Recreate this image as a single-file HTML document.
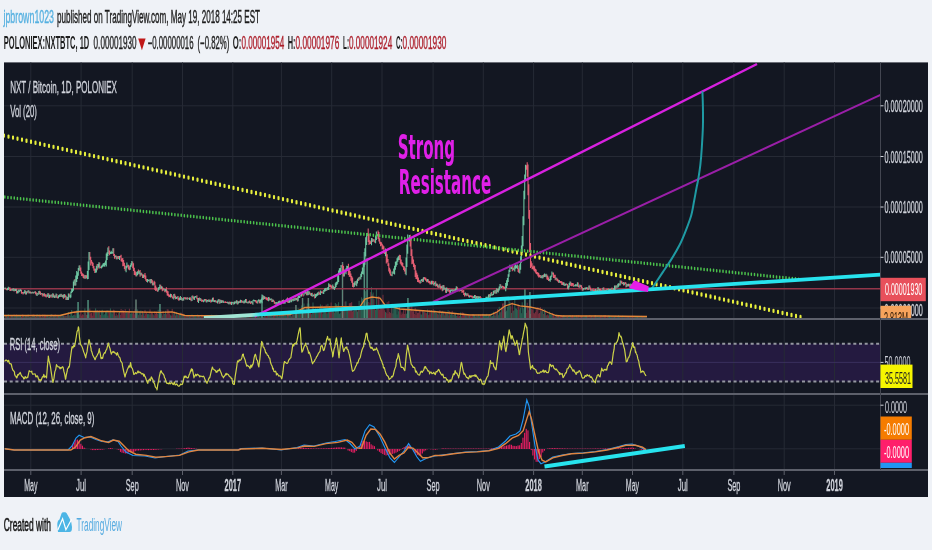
<!DOCTYPE html><html><head><meta charset="utf-8"><title>NXTBTC chart</title><style>html,body{margin:0;padding:0;background:#eff2f7;}body{width:932px;height:550px;overflow:hidden}</style></head><body><svg width="932" height="550" viewBox="0 0 932 550" style="display:block;filter:blur(0.4px)">
<rect width="932" height="550" fill="#eff2f7"/>
<g style="font-family:'Liberation Sans',Arial,sans-serif">
<text x="3.5" y="22.8" font-size="19" fill="#55b0e0" font-weight="normal" text-anchor="start" textLength="50.5" lengthAdjust="spacingAndGlyphs" stroke="#55b0e0" stroke-width="0.4">jpbrown1023</text>
<text x="57" y="22.8" font-size="19" fill="#1c1c1c" font-weight="normal" text-anchor="start" textLength="203" lengthAdjust="spacingAndGlyphs" stroke="#1c1c1c" stroke-width="0.45">published on TradingView.com, May 19, 2018 14:25 EST</text>
<text x="3.8" y="49" font-size="17.5" fill="#1e1e1e" font-weight="bold" text-anchor="start" textLength="85.5" lengthAdjust="spacingAndGlyphs" >POLONIEX:NXTBTC, 1D</text>
<text x="93.6" y="49" font-size="17.5" fill="#1f1f1f" font-weight="normal" text-anchor="start" textLength="43" lengthAdjust="spacingAndGlyphs" stroke="#1f1f1f" stroke-width="0.4">0.00001930</text>
<path d="M138.2,38.5 L145.6,38.5 L141.9,50.3 Z" fill="#c01818"/>
<text x="147.7" y="49" font-size="17.5" fill="#1f1f1f" font-weight="normal" text-anchor="start" textLength="45.8" lengthAdjust="spacingAndGlyphs" stroke="#1f1f1f" stroke-width="0.4">−0.00000016</text>
<text x="197.5" y="49" font-size="17.5" fill="#1f1f1f" font-weight="normal" text-anchor="start" textLength="31.8" lengthAdjust="spacingAndGlyphs" stroke="#1f1f1f" stroke-width="0.4">(−0.82%)</text>
<text x="232.7" y="49" font-size="17.5" fill="#1e1e1e" font-weight="bold" text-anchor="start" textLength="8.6" lengthAdjust="spacingAndGlyphs" >O:</text>
<text x="241.5" y="49" font-size="17.5" fill="#ad1f2b" font-weight="normal" text-anchor="start" textLength="42.7" lengthAdjust="spacingAndGlyphs" stroke="#ad1f2b" stroke-width="0.4">0.00001954</text>
<text x="287.7" y="49" font-size="17.5" fill="#1e1e1e" font-weight="bold" text-anchor="start" textLength="7.8" lengthAdjust="spacingAndGlyphs" >H:</text>
<text x="295.5" y="49" font-size="17.5" fill="#ad1f2b" font-weight="normal" text-anchor="start" textLength="43.8" lengthAdjust="spacingAndGlyphs" stroke="#ad1f2b" stroke-width="0.4">0.00001976</text>
<text x="343" y="49" font-size="17.5" fill="#1e1e1e" font-weight="bold" text-anchor="start" textLength="6" lengthAdjust="spacingAndGlyphs" >L:</text>
<text x="349" y="49" font-size="17.5" fill="#ad1f2b" font-weight="normal" text-anchor="start" textLength="43.2" lengthAdjust="spacingAndGlyphs" stroke="#ad1f2b" stroke-width="0.4">0.00001924</text>
<text x="395.9" y="49" font-size="17.5" fill="#1e1e1e" font-weight="bold" text-anchor="start" textLength="6.7" lengthAdjust="spacingAndGlyphs" >C:</text>
<text x="402.6" y="49" font-size="17.5" fill="#ad1f2b" font-weight="normal" text-anchor="start" textLength="43.8" lengthAdjust="spacingAndGlyphs" stroke="#ad1f2b" stroke-width="0.4">0.00001930</text>
</g>
<rect x="4" y="62.4" width="924" height="434.6" fill="#131722"/>
<defs><clipPath id="cm"><rect x="4" y="62.4" width="876.5" height="255.6"/></clipPath><clipPath id="cr"><rect x="4" y="320" width="876.5" height="73"/></clipPath><clipPath id="cd"><rect x="4" y="395" width="876.5" height="74"/></clipPath></defs>
<rect x="4" y="343.7" width="876.5" height="37.8" fill="#241a40"/>
<path d="M30.8,62.4V470 M81.1,62.4V470 M132.2,62.4V470 M182.5,62.4V470 M232.8,62.4V470 M281.4,62.4V470 M331.7,62.4V470 M382.0,62.4V470 M433.1,62.4V470 M483.3,62.4V470 M533.6,62.4V470 M582.3,62.4V470 M632.5,62.4V470 M682.8,62.4V470 M733.9,62.4V470 M784.2,62.4V470 M834.5,62.4V470 M4,105.8H880.5 M4,156.5H880.5 M4,207H880.5 M4,257.3H880.5 M4,308H880.5 M4,405.2H880.5 M4,448.8H880.5" stroke="#262a35" stroke-width="1" fill="none"/>
<path d="M4,362.4H880.5" stroke="#3a2f5c" stroke-width="1"/>
<path d="M4,343.7H880.5M4,381.5H880.5" stroke="#9598a1" stroke-width="2" stroke-dasharray="3 2.7"/>
<g clip-path="url(#cm)" fill="none" stroke-width="0.8">
<path d="M5.8,318V315.7M6.6,318V315.9M9.1,318V316.3M9.9,318V316.6M10.8,318V316.1M12.4,318V315.4M14.1,318V314.6M16.5,318V314.6M19.0,318V315.1M21.5,318V316.8M22.3,318V314.6M23.1,318V314.8M25.6,318V315.7M27.2,318V315.1M28.9,318V314.8M30.5,318V316.7M32.2,318V314.6M33.8,318V314.3M35.5,318V316.7M36.3,318V315.6M37.9,318V316.6M39.6,318V314.7M40.4,318V315.0M42.1,318V315.1M42.9,318V314.4M44.5,318V314.7M45.4,318V314.8M46.2,318V315.0M48.7,318V316.6M50.3,318V315.2M51.9,318V314.4M53.6,318V315.4M55.2,318V314.5M56.9,318V316.6M57.7,318V315.0M60.2,318V315.6M61.8,318V314.6M63.5,318V315.8M65.1,318V315.6M65.9,318V315.9M67.6,318V314.4M69.2,318V315.2M75.0,318V311.2M79.9,318V314.2M80.8,318V312.0M81.6,318V315.6M82.4,318V314.3M83.2,318V314.9M84.1,318V312.8M85.7,318V312.7M86.5,318V314.8M89.8,318V308.5M90.7,318V313.4M91.5,318V312.9M92.3,318V315.7M93.1,318V312.7M93.9,318V311.3M94.8,318V310.8M97.2,318V310.2M99.7,318V310.5M100.5,318V314.9M108.8,318V310.7M109.6,318V312.3M113.7,318V309.7M114.5,318V310.6M116.2,318V313.5M117.8,318V314.9M118.7,318V313.1M120.3,318V315.0M121.1,318V309.0M122.0,318V313.1M122.8,318V309.9M123.6,318V310.6M124.4,318V312.6M125.2,318V309.1M127.7,318V313.0M128.5,318V312.3M129.4,318V308.7M132.7,318V313.5M133.5,318V312.3M134.3,318V314.3M135.1,318V309.2M136.0,318V299.6M138.4,318V315.1M140.1,318V312.7M141.7,318V315.0M142.5,318V311.1M144.2,318V315.8M145.0,318V309.9M145.8,318V314.2M146.7,318V312.5M150.0,318V309.4M151.6,318V312.6M152.4,318V313.2M154.1,318V315.6M154.9,318V311.1M155.7,318V313.8M156.5,318V311.6M157.4,318V313.8M160.7,318V309.9M162.3,318V315.7M163.1,318V310.9M164.8,318V313.8M166.4,318V314.3M167.2,318V309.3M168.1,318V309.4M168.9,318V310.7M169.7,318V313.6M171.4,318V315.6M172.2,318V308.9M173.0,318V315.3M174.7,318V311.4M175.5,318V315.5M178.0,318V314.4M178.8,318V315.4M181.3,318V312.8M182.9,318V313.5M184.5,318V316.3M185.4,318V316.5M186.2,318V316.2M187.8,318V315.3M188.7,318V315.2M190.3,318V316.0M191.1,318V315.1M192.8,318V315.9M193.6,318V315.6M196.9,318V316.8M197.7,318V314.6M199.4,318V316.1M201.0,318V316.8M201.8,318V314.8M202.7,318V314.9M205.1,318V316.0M206.0,318V315.2M208.4,318V317.1M210.1,318V316.2M210.9,318V315.3M213.4,318V316.3M215.8,318V317.1M216.7,318V314.8M219.1,318V317.0M220.8,318V316.3M222.4,318V315.7M224.1,318V315.7M224.9,318V315.1M225.7,318V317.2M226.5,318V316.4M228.2,318V315.0M229.8,318V316.6M230.7,318V315.7M233.1,318V315.4M235.6,318V317.2M237.3,318V315.6M239.7,318V316.7M241.4,318V316.8M242.2,318V315.5M243.8,318V315.7M246.3,318V316.5M248.0,318V314.8M249.6,318V315.3M250.4,318V315.0M252.1,318V316.9M255.4,318V316.3M256.2,318V316.2M257.0,318V317.0M259.5,318V316.6M263.6,318V316.8M265.3,318V314.2M266.1,318V316.9M266.9,318V315.8M267.7,318V315.5M269.4,318V314.2M271.8,318V314.6M273.5,318V315.8M274.3,318V314.4M275.1,318V313.5M277.6,318V314.1M280.1,318V315.3M281.7,318V314.5M283.4,318V314.5M287.5,318V314.8M288.3,318V314.8M290.8,318V312.3M292.4,318V312.7M294.1,318V311.1M295.7,318V305.0M297.4,318V313.2M300.7,318V310.4M302.3,318V298.0M303.1,318V307.6M304.8,318V311.6M306.4,318V306.9M308.1,318V298.0M309.7,318V308.3M310.6,318V312.5M312.2,318V307.4M314.7,318V310.2M318.8,318V310.6M319.6,318V307.9M321.3,318V306.3M322.1,318V305.2M326.2,318V304.6M329.5,318V306.0M330.3,318V307.0M331.1,318V302.5M332.0,318V309.2M333.6,318V311.4M341.9,318V306.7M342.7,318V262.0M343.5,318V308.7M345.1,318V301.5M348.4,318V310.4M349.3,318V303.4M350.1,318V303.2M350.9,318V302.9M351.7,318V302.1M352.6,318V311.4M353.4,318V310.9M355.9,318V306.4M358.3,318V306.5M360.0,318V305.6M368.2,318V302.0M369.0,318V305.8M369.9,318V302.6M370.7,318V292.1M372.3,318V294.3M374.0,318V299.2M374.8,318V307.4M378.1,318V296.3M378.9,318V296.4M379.7,318V309.7M380.6,318V305.4M381.4,318V306.0M382.2,318V305.9M383.0,318V294.8M383.9,318V304.9M384.7,318V310.2M386.3,318V312.7M387.2,318V302.1M388.0,318V313.7M388.8,318V301.2M389.6,318V312.0M390.4,318V312.9M391.3,318V307.6M392.9,318V313.4M399.5,318V306.9M400.3,318V309.6M401.2,318V314.7M402.0,318V312.4M402.8,318V313.9M403.6,318V309.2M404.4,318V313.9M405.3,318V310.1M408.6,318V307.0M410.2,318V311.0M411.0,318V306.6M411.9,318V306.2M412.7,318V311.3M413.5,318V311.2M414.3,318V314.0M415.2,318V307.9M416.0,318V315.0M416.8,318V310.5M417.6,318V313.1M418.4,318V312.7M419.3,318V310.2M420.1,318V310.8M422.6,318V310.3M424.2,318V311.6M425.0,318V312.4M425.9,318V312.7M426.7,318V313.3M428.3,318V315.1M429.2,318V309.9M430.0,318V314.5M430.8,318V310.5M432.4,318V312.2M433.3,318V309.3M435.7,318V313.1M437.4,318V313.6M438.2,318V314.6M439.9,318V310.2M440.7,318V314.6M442.3,318V310.9M444.0,318V312.2M445.6,318V312.6M447.3,318V314.1M448.9,318V315.6M449.7,318V311.1M452.2,318V310.9M454.7,318V313.8M457.2,318V316.0M458.0,318V313.6M458.8,318V316.5M459.6,318V315.8M461.3,318V316.4M462.1,318V312.5M462.9,318V312.7M463.7,318V313.0M464.6,318V314.7M466.2,318V314.9M467.9,318V314.8M468.7,318V315.5M470.3,318V316.0M471.2,318V316.4M472.0,318V316.0M472.8,318V314.2M475.3,318V316.5M477.7,318V316.0M480.2,318V314.7M481.0,318V315.9M481.9,318V316.2M482.7,318V313.8M489.3,318V314.1M491.7,318V316.5M494.2,318V312.2M495.9,318V311.4M497.5,318V309.0M500.8,318V311.7M502.5,318V303.6M503.3,318V303.4M504.1,318V306.9M504.9,318V300.0M510.7,318V306.2M512.3,318V302.4M514.0,318V310.2M518.1,318V304.4M518.9,318V306.5M526.3,318V312.9M527.2,318V302.7M528.0,318V306.1M528.8,318V310.3M529.6,318V292.0M530.5,318V313.8M531.3,318V308.7M532.1,318V309.2M532.9,318V309.6M533.8,318V313.1M534.6,318V313.4M535.4,318V311.9M536.2,318V308.8M537.0,318V309.8M537.9,318V307.0M538.7,318V313.7M539.5,318V313.0M540.3,318V307.0M542.0,318V308.5M543.6,318V314.0M545.3,318V310.0M546.9,318V315.1M547.8,318V314.4M548.6,318V315.5M552.7,318V312.9M553.5,318V314.1M554.3,318V316.3M555.2,318V316.8M556.8,318V315.8M557.6,318V316.2M558.5,318V316.0M560.1,318V316.6M560.9,318V315.0M561.8,318V315.3M562.6,318V315.8M564.2,318V315.5M566.7,318V316.7M567.5,318V317.0M570.8,318V316.0M571.6,318V316.5M572.5,318V315.3M573.3,318V316.7M576.6,318V315.4M578.2,318V315.2M579.0,318V315.6M580.7,318V315.9M581.5,318V316.2M582.3,318V316.0M584.8,318V316.1M587.3,318V316.6M588.1,318V316.1M589.8,318V315.0M590.6,318V317.1M591.4,318V316.0M593.1,318V316.9M593.9,318V316.7M594.7,318V315.5M596.3,318V316.4M598.8,318V316.3M600.5,318V316.0M601.3,318V315.6M602.1,318V316.6M603.8,318V315.3M604.6,318V315.4M605.4,318V315.1M607.1,318V315.7M607.9,318V316.6M612.0,318V316.3M612.8,318V317.0M615.3,318V315.8M616.9,318V316.2M619.4,318V316.5M621.1,318V316.1M621.9,318V316.1M623.5,318V317.3M625.2,318V315.9M626.0,318V316.9M627.6,318V316.1M629.3,318V316.5M630.1,318V316.5M631.8,318V317.0M632.6,318V315.8M633.4,318V317.3M635.1,318V316.8M638.3,318V317.0M640.0,318V317.1M642.5,318V316.8M643.3,318V316.8M645.8,318V316.8" stroke="#8a3344"/>
<path d="M5.0,318V315.6M7.5,318V316.5M8.3,318V314.3M11.6,318V315.2M13.2,318V316.4M14.9,318V315.9M15.7,318V315.7M17.4,318V315.4M18.2,318V315.8M19.8,318V316.0M20.6,318V315.8M23.9,318V315.9M24.8,318V316.6M26.4,318V316.1M28.1,318V314.5M29.7,318V316.9M31.4,318V316.8M33.0,318V316.1M34.6,318V316.1M37.1,318V314.3M38.8,318V314.9M41.2,318V317.0M43.7,318V316.5M47.0,318V314.9M47.8,318V316.0M49.5,318V316.7M51.1,318V314.3M52.8,318V316.4M54.4,318V316.1M56.1,318V315.6M58.5,318V315.6M59.4,318V316.4M61.0,318V315.1M62.7,318V314.3M64.3,318V316.2M66.8,318V315.8M68.4,318V312.0M70.1,318V316.1M70.9,318V312.4M71.7,318V310.0M72.5,318V315.8M73.4,318V315.2M74.2,318V315.0M75.8,318V315.4M76.7,318V310.3M77.5,318V312.6M78.3,318V302.0M79.1,318V315.0M84.9,318V308.4M87.4,318V315.1M88.2,318V300.0M89.0,318V314.5M95.6,318V308.4M96.4,318V310.9M98.1,318V311.8M98.9,318V311.4M101.4,318V311.0M102.2,318V309.8M103.0,318V311.7M103.8,318V315.2M104.7,318V314.2M105.5,318V312.1M106.3,318V311.1M107.1,318V310.2M107.9,318V315.6M110.4,318V308.4M111.2,318V312.3M112.1,318V314.2M112.9,318V311.4M115.4,318V315.7M117.0,318V315.8M119.5,318V311.5M126.1,318V313.3M126.9,318V311.1M130.2,318V313.4M131.0,318V314.0M131.8,318V312.9M136.8,318V311.8M137.6,318V309.4M139.2,318V311.2M140.9,318V310.5M143.4,318V313.2M147.5,318V314.2M148.3,318V313.7M149.1,318V314.6M150.8,318V314.4M153.2,318V314.5M158.2,318V309.7M159.0,318V314.6M159.8,318V304.0M161.5,318V313.3M164.0,318V314.1M165.6,318V310.8M170.5,318V315.3M173.8,318V313.1M176.3,318V312.0M177.1,318V315.0M179.6,318V314.4M180.4,318V312.7M182.1,318V315.4M183.7,318V315.0M187.0,318V315.6M189.5,318V316.3M192.0,318V314.6M194.4,318V316.1M195.3,318V316.4M196.1,318V314.9M198.5,318V315.5M200.2,318V316.7M203.5,318V315.7M204.3,318V316.0M206.8,318V316.7M207.6,318V317.0M209.3,318V315.9M211.7,318V314.7M212.5,318V315.2M214.2,318V315.1M215.0,318V314.9M217.5,318V316.9M218.3,318V316.3M220.0,318V316.2M221.6,318V316.8M223.3,318V315.6M227.4,318V315.7M229.0,318V315.2M231.5,318V315.5M232.3,318V316.3M234.0,318V316.8M234.8,318V315.8M236.4,318V315.6M238.1,318V317.0M238.9,318V315.7M240.5,318V316.7M243.0,318V316.5M244.7,318V314.8M245.5,318V316.2M247.1,318V316.9M248.8,318V315.4M251.3,318V314.8M252.9,318V314.9M253.7,318V316.9M254.6,318V316.6M257.8,318V314.9M258.7,318V314.6M260.3,318V317.1M261.1,318V314.7M262.0,318V294.5M262.8,318V316.4M264.4,318V314.6M268.6,318V315.9M270.2,318V314.4M271.0,318V315.4M272.7,318V316.4M276.0,318V315.4M276.8,318V315.5M278.4,318V316.4M279.3,318V314.2M280.9,318V313.6M282.6,318V314.5M284.2,318V315.1M285.0,318V316.1M285.8,318V315.3M286.7,318V316.2M289.1,318V314.7M290.0,318V315.2M291.6,318V316.4M293.3,318V310.8M294.9,318V310.6M296.6,318V309.5M298.2,318V308.3M299.0,318V313.1M299.8,318V312.5M301.5,318V305.4M304.0,318V303.5M305.6,318V312.5M307.3,318V303.5M308.9,318V303.6M311.4,318V314.2M313.0,318V302.5M313.8,318V306.5M315.5,318V308.3M316.3,318V310.1M317.1,318V308.4M318.0,318V309.0M320.4,318V304.4M322.9,318V314.1M323.7,318V306.6M324.6,318V306.5M325.4,318V306.7M327.0,318V313.7M327.9,318V303.8M328.7,318V310.9M332.8,318V308.9M334.4,318V312.6M335.3,318V303.0M336.1,318V304.7M336.9,318V304.2M337.7,318V306.1M338.6,318V302.2M339.4,318V313.9M340.2,318V313.1M341.0,318V307.8M344.3,318V306.7M346.0,318V301.4M346.8,318V310.0M347.6,318V306.2M354.2,318V310.7M355.0,318V308.0M356.7,318V307.1M357.5,318V311.6M359.1,318V300.8M360.8,318V306.0M361.6,318V297.3M362.4,318V299.1M363.3,318V297.8M364.1,318V252.0M364.9,318V310.3M365.7,318V291.2M366.6,318V302.3M367.4,318V258.0M371.5,318V287.1M373.1,318V292.5M375.6,318V310.0M376.4,318V288.9M377.3,318V308.6M385.5,318V312.1M392.1,318V303.7M393.7,318V304.3M394.6,318V304.0M395.4,318V304.2M396.2,318V304.9M397.0,318V314.5M397.9,318V309.0M398.7,318V311.3M406.1,318V313.8M406.9,318V313.6M407.7,318V298.0M409.4,318V306.1M420.9,318V314.3M421.7,318V314.7M423.4,318V311.6M427.5,318V309.5M431.6,318V310.1M434.1,318V311.5M434.9,318V310.1M436.6,318V313.1M439.0,318V312.0M441.5,318V312.2M443.2,318V311.6M444.8,318V315.4M446.4,318V313.4M448.1,318V310.3M450.6,318V314.6M451.4,318V312.8M453.0,318V314.7M453.9,318V314.8M455.5,318V313.1M456.3,318V315.9M460.5,318V312.5M465.4,318V315.2M467.0,318V316.2M469.5,318V315.7M473.6,318V314.5M474.5,318V315.2M476.1,318V315.7M476.9,318V316.2M478.6,318V314.7M479.4,318V316.3M483.5,318V314.0M484.3,318V314.7M485.2,318V314.7M486.0,318V314.8M486.8,318V313.8M487.6,318V316.4M488.5,318V315.6M490.1,318V316.0M490.9,318V313.6M492.6,318V316.0M493.4,318V311.8M495.0,318V315.7M496.7,318V312.9M498.3,318V315.2M499.2,318V306.8M500.0,318V312.8M501.6,318V307.4M505.7,318V312.1M506.6,318V310.6M507.4,318V306.9M508.2,318V306.4M509.0,318V298.1M509.9,318V302.0M511.5,318V312.9M513.2,318V310.9M514.8,318V298.8M515.6,318V308.3M516.5,318V308.6M517.3,318V309.9M519.8,318V309.5M520.6,318V307.6M521.4,318V313.2M522.2,318V302.3M523.0,318V308.1M523.9,318V309.3M524.7,318V288.0M525.5,318V306.5M541.2,318V311.4M542.8,318V309.7M544.5,318V309.3M546.1,318V315.5M549.4,318V311.7M550.2,318V314.3M551.0,318V313.8M551.9,318V315.0M556.0,318V314.5M559.3,318V316.8M563.4,318V315.1M565.0,318V316.0M565.9,318V316.5M568.3,318V316.0M569.2,318V317.1M570.0,318V315.1M574.1,318V316.7M574.9,318V315.9M575.8,318V316.8M577.4,318V317.0M579.9,318V317.2M583.2,318V316.5M584.0,318V317.0M585.6,318V315.8M586.5,318V315.7M588.9,318V317.3M592.2,318V316.5M595.5,318V315.2M597.2,318V316.0M598.0,318V316.8M599.6,318V316.6M602.9,318V316.0M606.2,318V317.3M608.7,318V315.4M609.5,318V315.8M610.3,318V316.8M611.2,318V316.7M613.6,318V317.1M614.5,318V316.9M616.1,318V317.3M617.8,318V316.2M618.6,318V315.3M620.2,318V316.6M622.7,318V315.7M624.3,318V316.8M626.8,318V316.7M628.5,318V316.3M630.9,318V316.4M634.2,318V317.1M635.9,318V316.7M636.7,318V316.6M637.5,318V316.2M639.2,318V317.1M640.8,318V316.0M641.6,318V315.9M644.1,318V316.0M644.9,318V316.5M646.6,318V317.4" stroke="#2f705c"/>
<path d="M78,318V302M88,318V300M136,318V299.6M160,318V304M262,318V294.5M296,318V305M302.6,318V298M308.4,318V298M342.5,318V262M364.4,318V252M367,318V258M408,318V298M525,318V288M505,318V300M530,318V292" stroke="#5e9c88" stroke-width="1.4" opacity="0.8"/>
</g>
<polyline points="4.0,315.5 60.0,315.5 72.0,312.5 80.0,311.5 110.0,311.5 160.0,312.3 172.0,311.8 185.0,315.5 240.0,316.0 290.0,314.5 305.0,307.5 330.0,307.0 360.0,306.5 365.0,299.0 372.0,297.0 380.0,298.0 385.0,305.0 400.0,309.0 420.0,310.5 445.0,312.5 470.0,315.0 490.0,315.0 497.0,312.0 505.0,306.0 512.0,303.7 520.0,305.8 530.0,307.0 540.0,309.0 548.0,312.5 556.0,315.5 562.0,316.0 600.0,316.0 647.0,316.5" fill="none" stroke="#e5883a" stroke-width="1.3" clip-path="url(#cm)"/>
<path d="M4,288.7H880.5" stroke="#93364a" stroke-width="1.6"/>
<g clip-path="url(#cm)" fill="none" stroke-width="1.1">
<path d="M5.8,287.8V289.6M6.6,289.0V290.3M9.1,287.4V289.1M9.9,287.2V291.0M10.8,288.9V291.0M12.4,288.7V290.5M14.1,288.4V291.4M16.5,288.8V293.4M19.0,289.7V291.9M21.5,289.8V293.7M22.3,292.1V293.5M23.1,292.0V294.5M25.6,290.8V294.4M27.2,291.0V293.3M28.9,290.2V293.5M30.5,291.5V293.6M32.2,291.8V293.2M33.8,291.9V293.6M35.5,291.2V294.2M36.3,292.2V295.5M37.9,292.7V294.5M39.6,290.8V294.1M40.4,291.5V295.1M42.1,293.1V295.6M42.9,293.5V296.7M44.5,293.2V296.4M45.4,294.2V296.7M46.2,294.3V297.5M48.7,293.3V298.0M50.3,294.8V297.5M51.9,294.2V297.7M53.6,293.8V297.2M55.2,295.2V297.8M56.9,294.0V297.7M57.7,296.5V298.4M60.2,294.2V297.0M61.8,294.3V297.0M63.5,294.5V298.7M65.1,294.4V296.9M65.9,295.4V300.0M67.6,297.0V300.0M69.2,293.5V297.0M75.0,278.9V285.7M79.9,265.3V271.1M80.8,267.4V273.8M81.6,271.6V275.9M82.4,273.2V276.3M83.2,273.8V277.9M84.1,274.8V278.8M85.7,275.1V278.7M86.5,275.3V278.3M89.8,252.1V259.8M90.7,256.7V265.4M91.5,260.0V263.5M92.3,261.7V266.0M93.1,262.8V268.2M93.9,266.0V270.7M94.8,268.4V273.0M97.2,263.9V270.3M99.7,262.5V268.6M100.5,266.7V268.0M108.8,246.3V254.1M109.6,250.5V255.2M113.7,248.2V256.1M114.5,254.1V258.7M116.2,255.6V259.2M117.8,256.0V258.8M118.7,256.1V259.0M120.3,255.7V257.6M121.1,254.7V261.3M122.0,258.4V262.0M122.8,258.0V266.2M123.6,259.9V265.9M124.4,262.7V269.1M125.2,265.5V270.7M127.7,264.7V267.0M128.5,264.8V269.6M129.4,266.2V270.2M132.7,261.5V268.2M133.5,263.3V271.1M134.3,267.8V274.9M135.1,270.7V275.2M136.0,272.2V276.5M138.4,269.6V273.7M140.1,270.0V276.7M141.7,272.7V275.6M142.5,274.3V278.1M144.2,274.7V277.3M145.0,273.1V278.9M145.8,275.4V280.8M146.7,278.9V282.0M150.0,279.3V282.8M151.6,278.9V283.1M152.4,280.2V285.2M154.1,280.8V284.7M154.9,281.7V290.1M155.7,285.5V290.9M156.5,287.5V290.6M157.4,289.4V291.7M160.7,284.7V289.2M162.3,286.4V291.2M163.1,287.8V290.5M164.8,289.2V292.2M166.4,287.2V292.8M167.2,290.5V295.4M168.1,291.2V295.9M168.9,294.0V297.2M169.7,294.9V297.0M171.4,293.9V296.9M172.2,295.6V298.3M173.0,297.1V298.8M174.7,293.8V298.1M175.5,295.7V299.3M178.0,296.1V299.8M178.8,297.7V300.7M181.3,296.9V299.9M182.9,298.4V300.7M184.5,297.2V298.8M185.4,297.2V299.5M186.2,297.4V299.0M187.8,297.2V299.6M188.7,298.2V299.1M190.3,297.3V299.9M191.1,298.6V301.2M192.8,295.6V298.2M193.6,296.5V299.4M196.9,295.2V299.3M197.7,297.9V301.9M199.4,297.5V300.4M201.0,298.5V300.8M201.8,299.6V302.0M202.7,299.8V301.6M205.1,298.9V300.7M206.0,299.1V302.3M208.4,299.5V301.7M210.1,300.3V301.5M210.9,299.5V302.8M213.4,297.6V301.7M215.8,300.1V302.3M216.7,301.2V302.7M219.1,299.1V303.8M220.8,299.7V303.0M222.4,300.2V302.5M224.1,301.5V302.5M224.9,301.4V303.1M225.7,301.3V303.0M226.5,302.1V303.1M228.2,301.8V304.0M229.8,301.4V303.7M230.7,302.1V304.4M233.1,301.8V304.5M235.6,301.6V302.9M237.3,300.4V304.4M239.7,300.7V303.0M241.4,300.0V302.7M242.2,301.0V302.4M243.8,301.2V303.6M246.3,299.1V303.0M248.0,301.8V303.4M249.6,300.6V303.1M250.4,301.5V303.9M252.1,301.8V304.0M255.4,300.1V301.7M256.2,300.2V303.0M257.0,301.2V303.5M259.5,299.8V303.2M263.6,295.7V299.8M265.3,296.7V298.8M266.1,297.7V299.7M266.9,296.9V300.3M267.7,298.0V300.7M269.4,297.6V300.2M271.8,298.8V302.1M273.5,299.8V301.8M274.3,300.8V303.8M275.1,301.9V304.3M277.6,302.3V304.3M280.1,300.7V304.4M281.7,300.6V303.5M283.4,299.6V303.8M287.5,297.6V302.6M288.3,300.3V302.9M290.8,297.4V301.8M292.4,299.1V300.8M294.1,298.2V300.4M295.7,297.4V300.0M297.4,297.3V301.4M300.7,294.8V296.5M302.3,292.2V295.2M303.1,294.4V296.6M304.8,292.3V293.4M306.4,292.0V295.3M308.1,291.6V295.2M309.7,291.7V294.2M310.6,293.3V295.5M312.2,292.7V296.7M314.7,293.5V298.6M318.8,291.6V294.9M319.6,292.5V294.5M321.3,291.4V293.2M322.1,290.8V293.2M326.2,287.8V290.9M329.5,284.3V286.9M330.3,284.4V287.1M331.1,285.0V288.4M332.0,285.9V287.9M333.6,286.0V289.0M341.9,265.3V267.4M342.7,264.4V272.7M343.5,266.0V276.6M345.1,270.7V273.2M348.4,263.8V275.0M349.3,270.1V276.7M350.1,271.1V276.9M350.9,273.6V280.8M351.7,275.9V282.7M352.6,277.6V286.9M353.4,282.9V287.6M355.9,281.1V285.0M358.3,277.8V280.9M360.0,276.4V278.7M368.2,228.4V242.1M369.0,233.8V244.9M369.9,240.2V244.0M370.7,241.3V244.1M372.3,238.3V242.0M374.0,239.1V241.8M374.8,240.5V242.7M378.1,230.5V239.1M378.9,231.9V241.5M379.7,238.2V243.8M380.6,241.8V246.3M381.4,242.3V245.5M382.2,243.7V249.5M383.0,245.3V249.1M383.9,246.3V253.5M384.7,251.3V254.1M386.3,250.1V263.5M387.2,254.2V262.2M388.0,258.9V266.1M388.8,263.2V271.5M389.6,267.8V273.4M390.4,269.4V275.4M391.3,274.2V276.1M392.9,271.5V273.7M399.5,254.8V259.9M400.3,254.9V263.7M401.2,259.4V265.3M402.0,261.9V266.3M402.8,263.0V267.2M403.6,266.0V270.0M404.4,266.4V271.5M405.3,268.3V273.9M408.6,237.7V240.5M410.2,234.8V246.5M411.0,237.2V256.1M411.9,249.3V264.3M412.7,256.2V263.7M413.5,259.5V267.0M414.3,263.5V269.7M415.2,265.0V277.0M416.0,270.5V278.9M416.8,272.7V279.2M417.6,274.8V281.9M418.4,277.5V282.3M419.3,280.1V282.7M420.1,281.4V283.7M422.6,278.8V282.0M424.2,277.0V278.9M425.0,277.2V280.1M425.9,277.7V280.9M426.7,279.3V282.2M428.3,279.3V282.8M429.2,281.1V283.3M430.0,280.8V284.4M430.8,282.3V284.2M432.4,280.8V284.0M433.3,281.1V285.0M435.7,281.2V286.5M437.4,283.8V287.3M438.2,285.5V288.0M439.9,283.8V287.9M440.7,285.7V289.3M442.3,285.5V291.2M444.0,285.2V289.6M445.6,287.9V292.8M447.3,287.8V291.6M448.9,288.3V292.0M449.7,290.0V293.9M452.2,289.0V291.5M454.7,289.3V291.5M457.2,286.7V290.6M458.0,288.7V291.6M458.8,289.2V291.0M459.6,289.4V291.4M461.3,289.0V291.3M462.1,288.5V292.9M462.9,290.7V292.1M463.7,289.8V295.0M464.6,292.9V296.5M466.2,293.3V296.3M467.9,293.2V295.9M468.7,294.8V297.3M470.3,295.3V297.1M471.2,295.5V297.3M472.0,295.5V297.4M472.8,296.2V298.5M475.3,295.1V299.7M477.7,296.0V298.9M480.2,296.0V298.6M481.0,297.2V300.2M481.9,299.0V300.0M482.7,298.8V300.3M489.3,294.0V297.4M491.7,292.1V295.6M494.2,290.8V293.5M495.9,289.7V293.7M497.5,288.9V292.1M500.8,284.6V287.4M502.5,285.7V287.5M503.3,286.0V288.2M504.1,286.9V289.2M504.9,286.6V288.8M510.7,267.2V268.6M512.3,265.8V271.3M514.0,266.3V270.5M518.1,265.4V271.9M518.9,268.5V272.9M526.3,165.2V169.8M527.2,162.3V176.8M528.0,164.6V195.2M528.8,184.3V218.7M529.6,210.1V252.3M530.5,243.1V268.1M531.3,261.2V266.7M532.1,263.2V269.3M532.9,266.5V269.3M533.8,265.5V270.5M534.6,266.3V271.5M535.4,268.8V272.8M536.2,269.4V273.9M537.0,272.1V274.6M537.9,272.2V276.3M538.7,272.9V277.6M539.5,274.7V277.1M540.3,275.1V278.1M542.0,275.4V277.9M543.6,274.6V277.4M545.3,274.2V276.7M546.9,274.5V279.4M547.8,275.8V280.1M548.6,277.5V280.9M552.7,272.4V274.6M553.5,272.5V277.9M554.3,274.8V278.1M555.2,274.7V280.2M556.8,277.8V280.8M557.6,278.7V281.4M558.5,279.7V282.8M560.1,281.1V283.1M560.9,280.9V283.3M561.8,281.2V284.9M562.6,282.2V284.9M564.2,282.4V285.8M566.7,283.4V285.3M567.5,284.0V289.1M570.8,281.8V285.9M571.6,283.0V286.3M572.5,283.0V285.8M573.3,283.3V286.7M576.6,284.5V286.3M578.2,282.5V287.1M579.0,285.5V287.7M580.7,285.0V287.0M581.5,285.3V288.2M582.3,287.2V290.8M584.8,287.4V289.5M587.3,287.2V289.6M588.1,287.8V290.0M589.8,285.6V288.6M590.6,287.5V290.7M591.4,289.2V290.7M593.1,288.6V291.2M593.9,289.7V291.2M594.7,289.2V291.4M596.3,289.4V292.0M598.8,287.8V291.6M600.5,288.8V291.1M601.3,289.5V291.5M602.1,289.9V292.0M603.8,287.3V291.0M604.6,289.4V291.4M605.4,289.8V292.8M607.1,288.4V290.2M607.9,288.8V290.3M612.0,287.6V289.6M612.8,288.8V290.6M615.3,285.4V289.9M616.9,285.3V287.4M619.4,283.6V285.6M621.1,280.4V283.0M621.9,281.3V284.2M623.5,281.9V285.6M625.2,281.9V284.1M626.0,282.5V287.5M627.6,283.9V286.2M629.3,283.8V286.7M630.1,284.2V287.1M631.8,284.0V286.4M632.6,284.3V286.3M633.4,284.0V287.1M635.1,282.4V285.5M638.3,282.6V286.5M640.0,284.1V287.0M642.5,284.6V288.3M643.3,286.9V289.0M645.8,285.6V290.0" stroke="#e25d72"/>
<path d="M5.0,287.5V289.0M7.5,288.1V290.3M8.3,286.8V290.1M11.6,289.2V290.5M13.2,288.2V290.9M14.9,288.9V290.9M15.7,288.8V290.9M17.4,291.1V293.6M18.2,289.5V293.2M19.8,289.4V292.2M20.6,289.2V290.9M23.9,291.8V293.8M24.8,290.0V293.3M26.4,291.6V294.6M28.1,290.3V292.4M29.7,291.4V293.3M31.4,292.2V293.5M33.0,291.8V293.5M34.6,291.4V292.8M37.1,293.0V295.9M38.8,290.9V294.7M41.2,293.0V294.2M43.7,293.5V295.7M47.0,295.2V296.8M47.8,293.2V296.7M49.5,294.7V298.1M51.1,294.8V296.4M52.8,293.2V297.4M54.4,295.6V297.9M56.1,293.5V297.7M58.5,295.2V298.2M59.4,294.4V297.1M61.0,293.8V296.7M62.7,295.0V297.5M64.3,293.9V297.8M66.8,296.4V299.9M68.4,293.6V300.1M70.1,294.8V298.2M70.9,291.5V297.4M71.7,288.6V292.9M72.5,288.4V291.9M73.4,281.5V290.7M74.2,279.8V285.6M75.8,275.4V285.6M76.7,270.9V282.0M77.5,272.3V278.9M78.3,267.9V275.7M79.1,265.5V270.3M84.9,275.3V278.5M87.4,271.1V279.2M88.2,261.4V279.1M89.0,252.1V270.0M95.6,268.8V272.7M96.4,265.8V272.6M98.1,264.0V268.6M98.9,262.3V267.3M101.4,265.8V268.4M102.2,264.7V267.5M103.0,263.6V266.8M103.8,262.9V266.2M104.7,262.5V266.7M105.5,260.6V265.0M106.3,253.6V266.5M107.1,252.3V259.9M107.9,247.5V256.1M110.4,252.1V254.1M111.2,250.8V254.0M112.1,252.0V253.5M112.9,248.3V253.7M115.4,255.6V257.2M117.0,256.5V259.6M119.5,255.9V259.9M126.1,265.9V272.3M126.9,262.4V268.2M130.2,265.1V269.8M131.0,263.3V267.1M131.8,261.1V265.4M136.8,271.7V276.3M137.6,271.3V274.9M139.2,270.7V274.2M140.9,272.8V275.5M143.4,274.6V278.0M147.5,279.1V282.5M148.3,279.7V280.9M149.1,279.5V281.5M150.8,279.0V283.6M153.2,282.4V285.5M158.2,287.4V291.6M159.0,287.0V290.0M159.8,284.5V288.3M161.5,286.2V288.7M164.0,288.4V290.5M165.6,289.0V291.5M170.5,293.8V297.6M173.8,294.0V299.6M176.3,296.9V298.9M177.1,296.6V298.5M179.6,297.5V300.2M180.4,296.1V300.1M182.1,298.1V300.7M183.7,297.2V300.6M187.0,297.5V299.8M189.5,297.5V300.0M192.0,295.8V301.0M194.4,296.6V300.0M195.3,296.0V297.4M196.1,296.3V297.8M198.5,298.0V302.9M200.2,298.1V301.1M203.5,300.2V302.2M204.3,299.1V301.5M206.8,299.7V302.5M207.6,299.9V301.5M209.3,299.6V302.0M211.7,299.8V301.9M212.5,297.7V301.4M214.2,300.1V301.9M215.0,300.5V302.2M217.5,300.4V303.4M218.3,299.2V301.8M220.0,299.7V303.5M221.6,300.2V302.9M223.3,300.5V302.9M227.4,301.7V303.3M229.0,302.1V304.5M231.5,301.7V305.0M232.3,302.0V303.3M234.0,302.1V304.6M234.8,301.3V304.1M236.4,300.3V303.4M238.1,301.2V304.2M238.9,301.2V303.0M240.5,299.8V302.8M243.0,300.5V302.9M244.7,300.3V303.3M245.5,299.1V302.4M247.1,301.8V303.3M248.8,301.2V303.3M251.3,301.0V303.1M252.9,300.3V304.7M253.7,299.6V301.1M254.6,300.0V301.5M257.8,300.3V303.4M258.7,299.3V301.6M260.3,299.9V303.4M261.1,299.0V302.3M262.0,297.4V303.3M262.8,295.0V299.7M264.4,296.2V299.0M268.6,297.0V301.2M270.2,299.1V300.6M271.0,298.3V300.0M272.7,299.4V301.9M276.0,302.1V304.7M276.8,302.2V303.8M278.4,301.2V304.4M279.3,300.8V302.9M280.9,301.3V304.4M282.6,300.0V303.1M284.2,301.8V303.5M285.0,299.9V303.8M285.8,299.8V302.2M286.7,298.5V301.8M289.1,300.3V303.1M290.0,298.1V302.4M291.6,299.2V302.2M293.3,298.5V301.2M294.9,298.1V301.1M296.6,298.1V300.2M298.2,295.4V301.3M299.0,295.9V298.0M299.8,295.2V298.1M301.5,292.3V296.6M304.0,292.5V295.6M305.6,291.2V293.7M307.3,290.9V295.2M308.9,291.0V294.9M311.4,293.1V296.1M313.0,294.4V296.5M313.8,294.4V296.2M315.5,294.0V298.1M316.3,293.9V296.8M317.1,293.0V296.0M318.0,292.0V295.3M320.4,290.5V295.0M322.9,292.2V293.5M323.7,290.0V294.1M324.6,288.5V291.7M325.4,288.0V291.3M327.0,288.1V290.6M327.9,286.9V289.7M328.7,283.3V289.9M332.8,284.4V288.7M334.4,286.9V289.9M335.3,283.2V288.2M336.1,282.1V287.0M336.9,281.6V285.0M337.7,275.9V283.8M338.6,270.4V282.1M339.4,268.2V275.0M340.2,268.1V275.1M341.0,264.9V273.5M344.3,269.5V276.5M346.0,268.2V274.2M346.8,265.7V270.6M347.6,265.9V269.0M354.2,282.5V287.0M355.0,281.2V285.6M356.7,280.5V286.2M357.5,278.7V283.4M359.1,276.9V280.3M360.8,273.8V279.6M361.6,271.4V277.1M362.4,267.4V274.0M363.3,263.0V274.6M364.1,260.7V266.8M364.9,248.2V264.8M365.7,237.3V256.4M366.6,233.2V245.1M367.4,233.0V235.9M371.5,238.0V245.3M373.1,239.2V241.4M375.6,235.4V243.3M376.4,231.6V240.0M377.3,234.1V236.3M385.5,248.6V256.3M392.1,271.6V276.3M393.7,268.6V273.7M394.6,265.7V274.5M395.4,261.8V269.7M396.2,261.3V266.7M397.0,258.2V265.1M397.9,256.7V261.7M398.7,255.8V260.1M406.1,257.6V275.2M406.9,244.5V267.1M407.7,234.5V253.7M409.4,235.1V241.4M420.9,279.8V283.1M421.7,279.1V281.1M423.4,277.2V281.8M427.5,279.0V281.8M431.6,280.7V284.4M434.1,282.9V285.8M434.9,281.6V284.1M436.6,283.5V286.1M439.0,284.6V287.5M441.5,286.2V288.1M443.2,285.0V290.6M444.8,287.5V289.8M446.4,287.4V292.9M448.1,289.0V290.7M450.6,289.6V293.0M451.4,289.5V290.9M453.0,289.7V292.0M453.9,289.2V290.7M455.5,288.4V291.6M456.3,286.3V290.0M460.5,289.4V291.1M465.4,292.5V295.3M467.0,293.4V295.5M469.5,295.5V297.6M473.6,296.3V297.9M474.5,295.1V298.0M476.1,296.0V299.8M476.9,296.3V298.2M478.6,296.3V298.7M479.4,296.6V297.9M483.5,298.4V300.9M484.3,298.6V300.6M485.2,298.2V299.6M486.0,296.7V299.6M486.8,296.7V298.5M487.6,296.7V297.7M488.5,294.6V297.9M490.1,294.4V298.2M490.9,292.7V296.0M492.6,294.1V295.5M493.4,290.7V295.1M495.0,290.0V293.4M496.7,288.3V293.5M498.3,288.5V292.5M499.2,286.5V290.4M500.0,283.9V288.6M501.6,286.2V288.1M505.7,282.9V291.3M506.6,280.2V287.9M507.4,278.1V285.8M508.2,274.3V282.0M509.0,269.8V276.7M509.9,264.8V272.0M511.5,266.6V269.0M513.2,267.9V269.9M514.8,265.2V271.6M515.6,264.3V268.7M516.5,265.5V267.9M517.3,264.5V268.9M519.8,264.2V273.5M520.6,256.2V269.7M521.4,245.5V262.7M522.2,235.9V253.0M523.0,216.3V246.2M523.9,190.7V225.3M524.7,174.5V199.3M525.5,164.8V180.7M541.2,275.6V278.2M542.8,275.0V278.6M544.5,273.4V277.1M546.1,273.8V277.3M549.4,279.1V280.7M550.2,276.3V281.7M551.0,275.6V280.0M551.9,271.6V276.8M556.0,277.5V279.4M559.3,280.0V282.8M563.4,282.3V285.2M565.0,283.7V285.9M565.9,283.5V285.3M568.3,285.5V289.5M569.2,283.0V287.4M570.0,281.5V284.9M574.1,285.5V286.5M574.9,284.7V286.3M575.8,284.0V286.6M577.4,282.3V286.6M579.9,284.6V287.8M583.2,287.9V290.4M584.0,288.2V289.3M585.6,287.5V289.6M586.5,287.2V289.0M588.9,285.4V289.8M592.2,289.2V291.2M595.5,289.0V291.4M597.2,289.7V291.4M598.0,287.1V291.8M599.6,289.0V292.0M602.9,287.7V292.5M606.2,289.2V292.9M608.7,288.5V291.0M609.5,289.1V290.9M610.3,288.9V290.4M611.2,288.5V290.6M613.6,288.2V290.6M614.5,285.5V290.5M616.1,285.6V288.5M617.8,283.8V287.8M618.6,283.3V286.7M620.2,280.4V285.5M622.7,282.6V284.0M624.3,282.5V285.3M626.8,283.7V286.9M628.5,283.8V286.2M630.9,283.6V287.1M634.2,281.7V286.2M635.9,283.8V285.6M636.7,282.1V285.9M637.5,282.1V284.1M639.2,284.3V285.9M640.8,285.5V287.2M641.6,285.5V287.3M644.1,286.6V289.3M644.9,286.4V288.2M646.6,287.2V289.4" stroke="#6cc4a0"/>
</g>
<g clip-path="url(#cm)" fill="none">
<path d="M4.00,134.45v2.30M8.50,135.48v2.30M13.00,136.50v2.30M17.50,137.53v2.30M22.00,138.55v2.30M26.50,139.58v2.30M31.00,140.60v2.30M35.50,141.63v2.30M40.00,142.65v2.30M44.50,143.68v2.30M49.00,144.70v2.30M53.50,145.73v2.30M58.00,146.75v2.30M62.50,147.78v2.30M67.00,148.80v2.30M71.50,149.83v2.30M76.00,150.85v2.30M80.50,151.88v2.30M85.00,152.90v2.30M89.50,153.93v2.30M94.00,154.95v2.30M98.50,155.98v2.30M103.00,157.00v2.30M107.50,158.03v2.30M112.00,159.05v2.30M116.50,160.08v2.30M121.00,161.10v2.30M125.50,162.13v2.30M130.00,163.15v2.30M134.50,164.18v2.30M139.00,165.20v2.30M143.50,166.23v2.30M148.00,167.25v2.30M152.50,168.28v2.30M157.00,169.30v2.30M161.50,170.33v2.30M166.00,171.35v2.30M170.50,172.38v2.30M175.00,173.40v2.30M179.50,174.43v2.30M184.00,175.45v2.30M188.50,176.48v2.30M193.00,177.50v2.30M197.50,178.53v2.30M202.00,179.55v2.30M206.50,180.58v2.30M211.00,181.60v2.30M215.50,182.63v2.30M220.00,183.65v2.30M224.50,184.68v2.30M229.00,185.70v2.30M233.50,186.73v2.30M238.00,187.75v2.30M242.50,188.78v2.30M247.00,189.80v2.30M251.50,190.83v2.30M256.00,191.85v2.30M260.50,192.88v2.30M265.00,193.90v2.30M269.50,194.93v2.30M274.00,195.95v2.30M278.50,196.98v2.30M283.00,198.00v2.30M287.50,199.03v2.30M292.00,200.05v2.30M296.50,201.08v2.30M301.00,202.10v2.30M305.50,203.13v2.30M310.00,204.15v2.30M314.50,205.18v2.30M319.00,206.20v2.30M323.50,207.23v2.30M328.00,208.25v2.30M332.50,209.28v2.30M337.00,210.30v2.30M341.50,211.33v2.30M346.00,212.35v2.30M350.50,213.38v2.30M355.00,214.40v2.30M359.50,215.43v2.30M364.00,216.45v2.30M368.50,217.48v2.30M373.00,218.50v2.30M377.50,219.53v2.30M382.00,220.55v2.30M386.50,221.58v2.30M391.00,222.60v2.30M395.50,223.63v2.30M400.00,224.65v2.30M404.50,225.68v2.30M409.00,226.70v2.30M413.50,227.73v2.30M418.00,228.75v2.30M422.50,229.78v2.30M427.00,230.80v2.30M431.50,231.83v2.30M436.00,232.85v2.30M440.50,233.88v2.30M445.00,234.90v2.30M449.50,235.93v2.30M454.00,236.95v2.30M458.50,237.98v2.30M463.00,239.00v2.30M467.50,240.03v2.30M472.00,241.05v2.30M476.50,242.08v2.30M481.00,243.10v2.30M485.50,244.13v2.30M490.00,245.15v2.30M494.50,246.18v2.30M499.00,247.20v2.30M503.50,248.23v2.30M508.00,249.25v2.30M512.50,250.28v2.30M517.00,251.30v2.30M521.50,252.33v2.30M526.00,253.35v2.30M530.50,254.38v2.30M535.00,255.40v2.30M539.50,256.43v2.30M544.00,257.45v2.30M548.50,258.48v2.30M553.00,259.50v2.30M557.50,260.53v2.30M562.00,261.55v2.30M566.50,262.58v2.30M571.00,263.60v2.30M575.50,264.63v2.30M580.00,265.65v2.30M584.50,266.68v2.30M589.00,267.70v2.30M593.50,268.73v2.30M598.00,269.75v2.30M602.50,270.78v2.30M607.00,271.80v2.30M611.50,272.83v2.30M616.00,273.85v2.30M620.50,274.88v2.30M625.00,275.90v2.30M629.50,276.93v2.30M634.00,277.95v2.30M638.50,278.98v2.30M643.00,280.00v2.30M647.50,281.03v2.30M652.00,282.05v2.30M656.50,283.08v2.30M661.00,284.10v2.30M665.50,285.13v2.30M670.00,286.15v2.30M674.50,287.18v2.30M679.00,288.20v2.30M683.50,289.23v2.30M688.00,290.25v2.30M692.50,291.28v2.30M697.00,292.30v2.30M701.50,293.33v2.30M706.00,294.35v2.30M710.50,295.38v2.30M715.00,296.40v2.30M719.50,297.43v2.30M724.00,298.46v2.30M728.50,299.48v2.30M733.00,300.51v2.30M737.50,301.53v2.30M742.00,302.56v2.30M746.50,303.58v2.30M751.00,304.61v2.30M755.50,305.63v2.30M760.00,306.66v2.30M764.50,307.68v2.30M769.00,308.71v2.30M773.50,309.73v2.30M778.00,310.76v2.30M782.50,311.78v2.30M787.00,312.81v2.30M791.50,313.83v2.30M796.00,314.86v2.30M800.50,315.88v2.30" stroke="#e6ee3c" stroke-width="2.1" stroke-linecap="round" fill="none"/>
<path d="M4.80,196.08v2.00M7.95,196.41v2.00M11.10,196.73v2.00M14.25,197.06v2.00M17.40,197.39v2.00M20.55,197.71v2.00M23.70,198.04v2.00M26.85,198.36v2.00M30.00,198.69v2.00M33.15,199.01v2.00M36.30,199.34v2.00M39.45,199.67v2.00M42.60,199.99v2.00M45.75,200.32v2.00M48.90,200.64v2.00M52.05,200.97v2.00M55.20,201.29v2.00M58.35,201.62v2.00M61.50,201.95v2.00M64.65,202.27v2.00M67.80,202.60v2.00M70.95,202.92v2.00M74.10,203.25v2.00M77.25,203.57v2.00M80.40,203.90v2.00M83.55,204.23v2.00M86.70,204.55v2.00M89.85,204.88v2.00M93.00,205.20v2.00M96.15,205.53v2.00M99.30,205.85v2.00M102.45,206.18v2.00M105.60,206.51v2.00M108.75,206.83v2.00M111.90,207.16v2.00M115.05,207.48v2.00M118.20,207.81v2.00M121.35,208.13v2.00M124.50,208.46v2.00M127.65,208.78v2.00M130.80,209.11v2.00M133.95,209.44v2.00M137.10,209.76v2.00M140.25,210.09v2.00M143.40,210.41v2.00M146.55,210.74v2.00M149.70,211.06v2.00M152.85,211.39v2.00M156.00,211.72v2.00M159.15,212.04v2.00M162.30,212.37v2.00M165.45,212.69v2.00M168.60,213.02v2.00M171.75,213.34v2.00M174.90,213.67v2.00M178.05,214.00v2.00M181.20,214.32v2.00M184.35,214.65v2.00M187.50,214.97v2.00M190.65,215.30v2.00M193.80,215.62v2.00M196.95,215.95v2.00M200.10,216.28v2.00M203.25,216.60v2.00M206.40,216.93v2.00M209.55,217.25v2.00M212.70,217.58v2.00M215.85,217.90v2.00M219.00,218.23v2.00M222.15,218.56v2.00M225.30,218.88v2.00M228.45,219.21v2.00M231.60,219.53v2.00M234.75,219.86v2.00M237.90,220.18v2.00M241.05,220.51v2.00M244.20,220.84v2.00M247.35,221.16v2.00M250.50,221.49v2.00M253.65,221.81v2.00M256.80,222.14v2.00M259.95,222.46v2.00M263.10,222.79v2.00M266.25,223.12v2.00M269.40,223.44v2.00M272.55,223.77v2.00M275.70,224.09v2.00M278.85,224.42v2.00M282.00,224.74v2.00M285.15,225.07v2.00M288.30,225.40v2.00M291.45,225.72v2.00M294.60,226.05v2.00M297.75,226.37v2.00M300.90,226.70v2.00M304.05,227.02v2.00M307.20,227.35v2.00M310.35,227.68v2.00M313.50,228.00v2.00M316.65,228.33v2.00M319.80,228.65v2.00M322.95,228.98v2.00M326.10,229.30v2.00M329.25,229.63v2.00M332.40,229.96v2.00M335.55,230.28v2.00M338.70,230.61v2.00M341.85,230.93v2.00M345.00,231.26v2.00M348.15,231.58v2.00M351.30,231.91v2.00M354.45,232.24v2.00M357.60,232.56v2.00M360.75,232.89v2.00M363.90,233.21v2.00M367.05,233.54v2.00M370.20,233.86v2.00M373.35,234.19v2.00M376.50,234.52v2.00M379.65,234.84v2.00M382.80,235.17v2.00M385.95,235.49v2.00M389.10,235.82v2.00M392.25,236.14v2.00M395.40,236.47v2.00M398.55,236.79v2.00M401.70,237.12v2.00M404.85,237.45v2.00M408.00,237.77v2.00M411.15,238.10v2.00M414.30,238.42v2.00M417.45,238.75v2.00M420.60,239.07v2.00M423.75,239.40v2.00M426.90,239.73v2.00M430.05,240.05v2.00M433.20,240.38v2.00M436.35,240.70v2.00M439.50,241.03v2.00M442.65,241.35v2.00M445.80,241.68v2.00M448.95,242.01v2.00M452.10,242.33v2.00M455.25,242.66v2.00M458.40,242.98v2.00M461.55,243.31v2.00M464.70,243.63v2.00M467.85,243.96v2.00M471.00,244.29v2.00M474.15,244.61v2.00M477.30,244.94v2.00M480.45,245.26v2.00M483.60,245.59v2.00M486.75,245.91v2.00M489.90,246.24v2.00M493.05,246.57v2.00M496.20,246.89v2.00M499.35,247.22v2.00M502.50,247.54v2.00M505.65,247.87v2.00M508.80,248.19v2.00M511.95,248.52v2.00M515.10,248.85v2.00M518.25,249.17v2.00M521.40,249.50v2.00M524.55,249.82v2.00M527.70,250.15v2.00M530.85,250.47v2.00M534.00,250.80v2.00M537.15,251.13v2.00M540.30,251.45v2.00M543.45,251.78v2.00M546.60,252.10v2.00M549.75,252.43v2.00M552.90,252.75v2.00M556.05,253.08v2.00M559.20,253.41v2.00M562.35,253.73v2.00M565.50,254.06v2.00M568.65,254.38v2.00M571.80,254.71v2.00M574.95,255.03v2.00M578.10,255.36v2.00M581.25,255.69v2.00M584.40,256.01v2.00M587.55,256.34v2.00M590.70,256.66v2.00M593.85,256.99v2.00M597.00,257.31v2.00M600.15,257.64v2.00M603.30,257.97v2.00M606.45,258.29v2.00M609.60,258.62v2.00M612.75,258.94v2.00M615.90,259.27v2.00M619.05,259.59v2.00M622.20,259.92v2.00M625.35,260.25v2.00M628.50,260.57v2.00M631.65,260.90v2.00M634.80,261.22v2.00M637.95,261.55v2.00M641.10,261.87v2.00M644.25,262.20v2.00M647.40,262.53v2.00M650.55,262.85v2.00M653.70,263.18v2.00M656.85,263.50v2.00M660.00,263.83v2.00M663.15,264.15v2.00M666.30,264.48v2.00M669.45,264.81v2.00M672.60,265.13v2.00M675.75,265.46v2.00M678.90,265.78v2.00M682.05,266.11v2.00M685.20,266.43v2.00M688.35,266.76v2.00M691.50,267.08v2.00M694.65,267.41v2.00M697.80,267.74v2.00M700.95,268.06v2.00M704.10,268.39v2.00M707.25,268.71v2.00M710.40,269.04v2.00M713.55,269.36v2.00M716.70,269.69v2.00M719.85,270.02v2.00M723.00,270.34v2.00M726.15,270.67v2.00M729.30,270.99v2.00M732.45,271.32v2.00M735.60,271.64v2.00M738.75,271.97v2.00M741.90,272.30v2.00M745.05,272.62v2.00M748.20,272.95v2.00M751.35,273.27v2.00M754.50,273.60v2.00M757.65,273.92v2.00M760.80,274.25v2.00M763.95,274.58v2.00M767.10,274.90v2.00M770.25,275.23v2.00M773.40,275.55v2.00M776.55,275.88v2.00M779.70,276.20v2.00M782.85,276.53v2.00M786.00,276.86v2.00M789.15,277.18v2.00M792.30,277.51v2.00M795.45,277.83v2.00M798.60,278.16v2.00" stroke="#4cc24c" stroke-width="1.5" stroke-linecap="round" fill="none"/>
<path d="M254.5,316.5 L757,64" stroke="#d821e0" stroke-width="2.4"/>
<path d="M432.9,302 L880.5,94.8" stroke="#9a1fa8" stroke-width="2"/>
<path d="M651.5,288.7 C652.0,288.0 652.7,287.3 654.6,284.5 C656.5,281.7 660.2,276.1 663.0,271.9 C665.8,267.7 668.5,263.9 671.3,259.4 C674.1,254.9 677.2,249.7 679.7,244.8 C682.2,239.9 684.1,235.0 686.0,230.1 C687.9,225.2 689.8,220.4 691.2,215.5 C692.6,210.6 693.3,205.1 694.2,200.5 C695.1,195.9 695.8,191.6 696.5,188.0 C697.2,184.4 697.6,183.0 698.3,179.1 C698.9,175.2 699.8,169.6 700.4,164.4 C701.0,159.2 701.4,154.0 701.8,147.7 C702.2,141.4 702.7,133.8 702.9,126.8 C703.1,119.8 703.0,111.8 702.9,105.9 C702.8,100.0 702.5,93.7 702.4,91.3" stroke="#1f9aa3" stroke-width="2"/>
<linearGradient id="cyg" gradientUnits="userSpaceOnUse" x1="204" y1="0" x2="880.5" y2="0"><stop offset="0" stop-color="#a6e3cf"/><stop offset="0.07" stop-color="#9ee6d6"/><stop offset="0.085" stop-color="#27e3ee"/><stop offset="1" stop-color="#27e3ee"/></linearGradient>
<path d="M204,318 L880.5,274.6" stroke="url(#cyg)" stroke-width="3.8"/>
<path d="M629,288 L634.3,280.2 L648.8,286.5 L648,292 L636,290 Z" fill="#e51ee8" stroke="none"/>
</g>
<g style="font-family:'DejaVu Sans',sans-serif;font-weight:bold" fill="#e020e8">
<text x="397.7" y="159" font-size="33.6" fill="#e020e8" font-weight="bold" text-anchor="start" textLength="57.4" lengthAdjust="spacingAndGlyphs" >Strong</text>
<text x="398.8" y="193.6" font-size="33.6" fill="#e020e8" font-weight="bold" text-anchor="start" textLength="92.4" lengthAdjust="spacingAndGlyphs" >Resistance</text>
</g>
<polyline points="4.6,361.5 4.6,361.5 5.4,360.4 6.2,360.0 7.1,360.7 7.9,361.9 8.2,360.6 8.7,360.4 9.5,363.6 10.4,363.7 10.9,364.2 11.2,364.0 12.0,367.5 12.8,370.0 13.7,370.9 14.5,372.1 14.6,374.3 15.3,376.0 16.1,376.4 16.4,377.9 17.0,377.6 17.8,374.5 18.6,375.0 19.4,373.3 20.0,373.3 20.2,372.4 21.1,374.7 21.9,376.3 22.7,376.9 23.5,377.5 23.7,378.8 24.4,378.7 25.2,376.5 26.0,378.1 26.8,377.7 27.4,377.0 27.7,377.5 28.5,373.9 29.2,370.6 29.3,371.0 30.1,371.5 31.0,371.8 31.8,371.2 31.9,372.4 32.6,374.2 33.4,374.1 34.2,374.0 35.1,373.9 35.9,376.8 36.5,376.0 36.7,376.7 37.5,376.0 38.4,378.5 39.2,380.4 40.0,379.6 40.8,380.8 41.0,380.6 41.7,378.7 42.5,376.7 43.3,376.3 43.8,374.3 44.1,377.4 45.0,375.9 45.8,376.8 46.5,377.9 46.6,377.3 47.4,366.4 48.3,357.2 48.3,356.0 49.1,360.9 49.9,363.8 50.7,368.2 51.0,370.6 51.5,373.9 52.4,379.9 52.9,382.5 53.2,381.3 54.0,378.2 54.8,371.9 55.7,369.6 56.5,364.6 56.5,365.1 57.3,366.0 58.1,367.0 59.0,366.7 59.8,368.2 60.2,368.8 60.6,367.5 61.4,368.2 62.3,366.7 62.9,367.0 63.1,367.3 63.9,371.4 64.7,374.1 65.5,379.2 65.7,378.8 66.4,374.5 67.2,371.2 67.5,368.8 68.0,368.5 68.8,366.6 69.3,367.0 69.7,364.1 70.5,357.4 71.3,351.7 72.0,346.9 72.1,346.6 73.0,347.8 73.8,345.3 74.6,346.5 74.8,345.0 75.4,342.2 76.3,336.5 77.1,331.5 77.9,329.9 78.4,326.8 78.7,327.9 79.5,337.3 80.3,343.2 80.4,344.2 81.2,345.4 82.0,346.5 82.1,346.9 82.8,348.9 83.7,351.9 84.5,353.9 85.3,356.2 85.7,357.8 86.1,355.1 87.0,351.9 87.8,345.8 88.6,342.1 89.0,339.6 89.4,340.7 90.3,345.2 91.1,348.7 91.2,350.5 91.9,352.1 92.7,354.9 93.5,356.6 94.4,358.0 94.9,359.7 95.2,359.6 96.0,357.1 96.8,356.1 97.7,354.3 98.5,352.8 99.3,348.5 99.4,350.5 100.1,352.7 101.0,358.3 101.2,358.7 101.8,357.6 102.6,358.3 103.4,354.7 104.3,353.0 104.9,352.4 105.1,353.2 105.9,350.3 106.7,349.4 107.5,346.1 108.4,343.3 108.5,343.2 109.2,346.6 110.0,348.5 110.8,352.0 111.3,354.2 111.7,353.1 112.5,352.2 113.1,351.4 113.3,352.3 114.1,351.8 115.0,353.2 115.8,353.2 116.6,355.1 117.4,352.6 118.3,355.5 118.6,356.0 119.1,357.1 119.9,357.7 120.7,361.2 121.6,362.2 122.2,363.3 122.4,365.3 123.2,369.0 124.0,372.8 124.8,376.1 125.0,377.0 125.7,374.0 126.5,372.3 127.3,369.6 127.7,368.8 128.1,368.1 129.0,365.8 129.8,367.2 130.4,363.3 130.6,362.5 131.4,367.4 132.3,368.4 133.1,371.1 133.9,374.5 134.1,374.3 134.7,374.0 135.6,372.6 136.4,373.7 137.2,372.8 138.0,370.9 138.6,372.4 138.8,372.7 139.7,371.9 140.5,372.4 141.3,373.8 142.1,373.9 143.0,373.7 143.8,376.1 144.1,374.3 144.6,375.9 145.4,377.1 146.3,379.8 147.1,381.5 147.8,383.4 147.9,381.3 148.7,380.4 149.6,379.1 150.4,380.6 151.2,377.2 151.4,377.0 152.0,378.1 152.8,379.6 153.7,382.7 154.5,383.7 155.3,386.9 156.1,387.9 156.9,388.8 157.0,389.9 157.8,384.4 158.6,380.9 159.4,376.2 160.3,372.5 160.5,371.5 161.1,370.7 161.9,372.7 162.7,373.4 163.6,374.6 164.2,376.0 164.4,377.5 165.2,378.7 166.0,381.6 166.8,382.5 166.8,383.3 167.7,383.5 168.5,383.8 169.3,382.6 170.1,384.0 170.5,383.4 171.0,383.0 171.8,382.6 172.6,383.9 173.4,384.5 174.1,382.5 174.3,381.8 175.1,384.8 175.9,384.6 176.7,383.8 177.6,385.4 178.4,386.2 178.7,386.1 179.2,386.2 180.0,385.1 180.9,383.9 181.7,384.6 182.3,384.3 182.5,384.2 183.3,380.6 184.1,376.9 184.2,376.1 185.0,377.4 185.8,376.0 186.6,377.3 187.4,378.0 187.8,377.9 188.3,377.6 189.1,374.9 189.9,373.2 190.7,370.8 191.5,368.8 191.6,370.8 192.4,369.3 193.2,373.4 194.0,377.8 194.2,376.1 194.9,376.2 195.7,374.2 196.5,375.8 197.3,374.2 198.1,374.7 198.7,375.2 199.0,375.4 199.8,376.9 200.6,376.0 201.4,376.3 202.3,376.8 203.1,376.2 203.3,376.1 203.9,376.6 204.7,378.8 205.6,380.8 206.4,381.9 207.0,383.4 207.2,382.4 208.0,381.0 208.9,378.3 209.7,377.1 209.7,377.9 210.5,374.6 211.3,371.0 212.1,368.1 212.4,367.0 213.0,369.0 213.8,369.3 214.6,370.2 215.4,370.4 216.1,372.4 216.3,371.3 217.1,372.0 217.9,370.3 218.7,370.8 219.6,368.9 219.7,369.7 220.4,371.3 221.2,373.0 222.0,375.7 222.9,376.4 223.4,377.9 223.7,377.1 224.5,376.2 225.3,374.7 226.1,373.3 226.1,374.8 227.0,373.8 227.8,374.2 228.6,375.0 229.4,376.4 230.3,376.9 230.7,377.0 231.1,378.4 231.9,378.3 232.7,383.3 233.6,384.4 234.3,384.3 234.4,383.6 235.2,376.4 236.0,371.4 236.9,365.5 237.1,363.3 237.7,360.8 238.5,361.9 239.3,359.8 239.8,360.6 240.1,360.4 241.0,359.7 241.8,357.9 242.6,354.3 243.4,354.2 243.4,355.6 244.3,358.1 245.1,359.9 245.9,363.6 246.2,364.2 246.7,366.1 247.6,365.3 248.4,366.4 249.2,366.8 249.8,367.9 250.0,368.7 250.9,365.0 251.7,367.2 252.5,364.4 252.6,365.1 253.3,363.0 254.2,357.4 255.0,354.7 255.3,354.2 255.8,355.5 256.6,359.6 257.4,360.4 258.3,365.3 258.9,367.0 259.1,364.7 259.9,358.8 260.7,349.9 261.6,343.1 261.7,341.4 262.4,343.1 263.2,347.0 264.0,347.4 264.4,348.7 264.9,349.6 265.7,353.0 266.5,352.9 267.3,355.1 268.2,355.5 269.0,357.9 269.0,357.8 269.8,358.3 270.6,362.8 271.4,364.7 272.3,366.5 272.6,368.8 273.1,368.2 273.9,371.4 274.7,371.8 275.6,371.1 276.3,373.3 276.4,375.0 277.2,373.6 278.0,374.7 278.9,376.1 279.7,375.8 280.5,376.2 281.3,377.8 281.7,378.8 282.2,377.0 283.0,371.7 283.8,364.5 284.5,361.5 284.6,362.6 285.4,362.2 286.3,363.1 287.1,363.3 287.2,363.3 287.9,362.6 288.7,360.1 289.6,359.0 290.4,358.0 290.9,357.8 291.2,355.3 292.0,350.3 292.7,345.1 292.9,344.0 293.7,346.0 294.5,343.6 295.3,343.2 296.2,343.9 296.3,343.2 297.0,340.7 297.8,336.6 298.6,332.5 299.4,329.1 300.0,327.7 300.3,329.9 301.1,343.2 301.8,351.5 301.9,352.2 302.7,351.0 303.6,348.0 304.4,346.0 305.2,344.5 305.5,343.2 306.0,345.5 306.9,346.7 307.7,349.4 308.2,350.5 308.5,353.2 309.3,352.2 310.2,354.7 311.0,357.4 311.8,361.2 312.6,363.8 312.8,363.3 313.4,362.0 314.3,361.5 315.1,359.5 315.9,358.5 316.7,356.4 317.3,356.0 317.6,355.3 318.4,353.4 319.2,352.4 320.0,351.4 320.9,346.0 321.7,346.1 321.9,345.1 322.5,346.9 323.3,350.2 323.7,350.5 324.2,349.8 325.0,346.7 325.8,343.8 326.6,339.3 327.3,337.8 327.5,336.4 328.3,339.9 329.1,340.0 329.9,338.7 330.1,339.6 330.7,345.0 331.6,350.0 332.4,352.7 332.7,356.9 333.2,355.0 334.0,349.1 334.9,346.7 335.7,340.9 336.4,337.8 336.5,338.0 337.3,343.4 338.2,350.6 339.0,357.8 339.1,357.8 339.8,350.8 340.6,342.3 341.3,337.8 341.5,340.5 342.3,345.0 343.1,348.7 343.7,351.5 343.9,350.7 344.7,348.9 345.6,347.3 346.4,348.0 346.8,346.9 347.2,349.3 348.0,349.8 348.9,353.2 349.2,354.2 349.7,356.3 350.5,360.3 351.3,364.9 352.2,370.2 352.8,371.5 353.0,370.6 353.8,370.5 354.6,369.3 355.5,366.7 356.3,365.4 356.5,365.1 357.1,362.7 357.9,363.1 358.7,360.1 359.6,358.3 360.1,357.8 360.4,356.8 361.2,353.1 362.0,350.0 362.9,347.8 363.7,346.4 363.7,345.1 364.5,341.5 365.3,338.6 366.2,333.4 366.5,333.2 367.0,333.4 367.8,339.8 368.6,341.0 369.5,343.1 370.1,346.9 370.3,347.0 371.1,348.4 371.9,347.2 372.7,348.7 373.6,350.5 373.8,350.5 374.4,349.1 375.2,349.8 376.0,349.1 376.5,347.8 376.9,349.2 377.7,350.6 378.5,353.2 379.3,354.9 380.2,357.6 380.2,357.8 381.0,359.9 381.8,361.4 382.6,364.4 382.9,364.2 383.5,368.0 384.3,367.6 385.1,370.7 385.9,373.4 386.5,374.3 386.8,375.3 387.6,375.8 388.4,376.9 389.2,379.5 389.3,378.8 390.0,378.8 390.9,378.1 391.7,376.3 392.5,376.9 392.9,376.1 393.3,375.0 394.2,370.9 395.0,368.4 395.8,366.4 396.6,359.6 397.5,358.5 398.3,353.7 398.4,354.2 399.1,356.4 399.9,361.2 400.8,365.8 401.1,367.0 401.6,367.5 402.4,367.3 403.2,367.8 404.0,369.4 404.8,370.6 404.9,370.0 405.7,361.4 406.5,353.1 407.3,348.1 407.5,345.1 408.2,347.8 409.0,352.6 409.8,356.6 410.6,360.8 411.2,364.2 411.5,364.6 412.3,365.5 413.1,367.4 413.9,367.1 414.8,368.0 415.6,372.1 415.7,370.6 416.4,371.4 417.2,373.2 418.0,374.5 418.9,375.0 419.4,375.2 419.7,374.8 420.5,372.4 421.3,371.2 422.2,372.4 423.0,371.0 423.8,369.8 424.6,366.8 424.9,367.9 425.5,366.6 426.3,368.4 427.1,369.1 427.9,371.1 428.8,370.9 429.4,372.4 429.6,373.8 430.4,372.0 431.2,372.2 432.0,373.6 432.9,373.3 433.7,372.3 434.5,374.0 434.9,373.3 435.3,374.7 436.2,371.5 437.0,371.8 437.8,370.6 438.6,369.4 439.4,370.6 439.5,371.2 440.3,372.6 441.1,374.2 441.9,375.0 442.8,374.2 443.6,377.2 444.0,377.9 444.4,377.5 445.2,377.6 446.0,378.1 446.9,380.2 447.7,379.7 448.5,382.2 449.3,381.3 450.2,379.7 450.4,381.5 451.0,381.0 451.8,379.5 452.6,376.7 453.5,373.8 454.3,374.6 455.0,371.5 455.1,370.5 455.9,373.1 456.8,373.0 457.6,375.0 458.4,376.1 458.6,377.9 459.2,375.3 460.1,370.6 460.9,364.5 461.3,362.4 461.7,362.9 462.5,367.5 463.3,371.4 464.1,374.3 464.2,373.0 465.0,374.2 465.8,375.9 466.6,377.5 467.5,377.7 468.3,378.9 468.6,378.8 469.1,377.3 469.9,375.6 470.8,377.5 471.6,375.8 472.3,376.1 472.4,376.0 473.2,375.5 474.1,376.1 474.9,374.8 475.7,376.5 475.9,375.2 476.5,376.0 477.3,377.4 478.2,378.5 479.0,379.9 479.6,379.7 479.8,380.3 480.6,379.2 481.5,381.1 482.3,384.1 483.1,383.7 483.9,384.6 484.1,384.3 484.8,383.3 485.6,380.5 486.4,378.6 487.2,376.8 487.8,376.1 488.1,375.7 488.9,370.2 489.7,366.8 490.5,360.6 490.5,361.1 491.3,363.4 492.2,363.2 493.0,362.8 493.3,364.2 493.8,366.8 494.6,367.2 495.5,369.7 496.0,369.7 496.3,367.6 497.1,360.6 497.9,354.4 498.6,349.0 498.8,346.8 499.6,340.8 499.6,341.7 500.4,344.6 501.2,348.7 501.4,349.9 502.1,345.0 502.9,341.4 503.7,337.0 503.8,336.2 504.5,343.3 505.3,349.3 505.9,351.7 506.2,349.9 507.0,345.2 507.8,338.8 508.6,333.9 509.2,329.9 509.5,331.1 510.3,334.6 511.1,339.0 511.1,339.0 511.9,335.7 512.3,336.2 512.8,338.1 513.6,340.2 514.4,342.2 515.1,345.4 515.2,344.7 516.1,343.4 516.9,340.3 516.9,340.8 517.7,345.3 518.5,349.6 519.3,354.6 519.6,354.5 520.2,350.2 521.0,346.2 521.8,341.9 522.4,338.1 522.6,338.2 523.5,332.9 524.3,329.2 525.1,324.4 525.1,323.1 525.9,325.1 526.8,328.4 526.9,327.1 527.6,337.3 528.4,352.0 528.7,354.5 529.2,358.0 530.1,364.7 530.6,369.1 530.9,367.1 531.7,367.4 532.4,365.4 532.5,365.8 533.4,368.7 534.2,368.4 535.0,369.3 535.8,369.6 536.6,372.1 537.0,372.7 537.5,373.4 538.3,373.0 539.1,373.3 539.9,372.7 540.6,371.8 540.8,371.7 541.6,372.1 542.4,371.5 543.2,370.0 544.1,372.5 544.3,370.9 544.9,371.5 545.7,370.7 546.5,372.4 547.4,372.7 547.9,372.7 548.2,372.7 549.0,370.6 549.8,364.2 550.6,364.5 550.6,365.0 551.5,366.7 552.3,365.4 553.1,365.4 553.9,368.1 554.8,369.0 555.2,369.1 555.6,369.7 556.4,369.1 557.2,370.3 558.1,371.5 558.9,372.6 559.7,374.6 559.8,372.7 560.5,373.9 561.4,374.1 562.2,373.6 563.0,377.7 563.4,377.3 563.8,376.5 564.6,375.1 565.5,372.9 566.1,372.7 566.3,372.9 567.1,368.8 567.9,368.7 568.8,366.9 569.6,365.2 569.8,364.5 570.4,366.9 571.2,367.3 572.1,369.2 572.5,370.0 572.9,371.1 573.7,369.8 574.5,371.7 575.4,372.8 576.2,374.4 576.2,373.6 577.0,372.1 577.8,372.7 578.6,371.5 578.9,370.9 579.5,370.7 580.3,372.3 581.1,374.0 581.9,377.0 582.6,378.2 582.8,378.2 583.6,378.0 584.4,377.4 585.2,375.5 586.1,376.3 586.9,375.4 587.1,374.5 587.7,375.4 588.5,376.0 589.4,375.1 590.2,377.2 590.8,377.3 591.0,376.6 591.8,377.5 592.7,379.2 593.5,380.7 594.3,381.5 595.1,382.3 595.3,382.8 595.9,379.4 596.8,377.3 597.2,375.5 597.6,375.0 598.4,374.6 599.2,376.3 599.9,376.4 600.1,377.0 600.9,372.0 601.7,369.1 601.7,368.2 602.5,370.5 603.4,371.0 604.2,369.4 605.0,369.7 605.4,370.0 605.8,369.3 606.7,370.1 607.5,365.9 608.3,365.0 609.0,362.7 609.1,363.2 609.9,361.7 610.8,362.9 611.6,363.3 611.7,364.5 612.4,359.8 613.2,353.6 614.1,349.2 614.5,344.5 614.9,343.9 615.7,343.5 616.5,342.5 617.2,341.7 617.4,341.0 618.2,338.8 619.0,332.6 619.0,332.9 619.8,335.5 620.7,336.9 620.9,336.2 621.5,337.7 622.3,341.8 623.1,343.8 623.9,347.1 624.5,349.0 624.8,351.1 625.6,356.8 626.3,361.8 626.4,361.1 627.2,361.3 628.1,358.1 628.9,357.3 629.1,356.3 629.7,355.5 630.5,351.4 631.4,348.6 632.2,345.8 632.7,342.6 633.0,344.5 633.8,347.5 634.7,347.0 635.5,352.5 635.5,350.8 636.3,353.7 637.1,355.0 637.9,358.9 638.8,361.2 639.1,363.6 639.6,366.1 640.4,368.9 640.9,372.7 641.2,371.5 642.1,371.9 642.8,370.9 642.9,371.2 643.7,371.6 644.5,373.5 645.4,374.9 646.0,376.0" fill="none" stroke="#cdd348" stroke-width="1.2" stroke-linejoin="round" clip-path="url(#cr)"/>
<g clip-path="url(#cd)" fill="none">
<rect x="72.0" y="445.1" width="1.1" height="3.9" fill="#e91e63"/><rect x="73.7" y="442.4" width="1.1" height="6.6" fill="#e91e63"/><rect x="75.3" y="439.6" width="1.1" height="9.4" fill="#e91e63"/><rect x="77.0" y="439.6" width="1.1" height="9.4" fill="#e91e63"/><rect x="78.6" y="440.8" width="1.1" height="8.2" fill="#e91e63"/><rect x="80.3" y="443.8" width="1.1" height="5.2" fill="#e91e63"/><rect x="81.9" y="445.7" width="1.1" height="3.3" fill="#e91e63"/><rect x="83.6" y="447.6" width="1.1" height="1.4" fill="#e91e63"/><rect x="85.2" y="448.7" width="1.1" height="0.3" fill="#e91e63"/><rect x="90.2" y="449.0" width="1.1" height="0.5" fill="#e91e63"/><rect x="91.8" y="449.0" width="1.1" height="1.1" fill="#e91e63"/><rect x="93.5" y="449.0" width="1.1" height="1.1" fill="#e91e63"/><rect x="95.1" y="449.0" width="1.1" height="1.1" fill="#e91e63"/><rect x="96.8" y="449.0" width="1.1" height="1.0" fill="#e91e63"/><rect x="98.4" y="449.0" width="1.1" height="0.9" fill="#e91e63"/><rect x="100.1" y="449.0" width="1.1" height="0.8" fill="#e91e63"/><rect x="101.7" y="449.0" width="1.1" height="0.7" fill="#e91e63"/><rect x="103.4" y="449.0" width="1.1" height="0.4" fill="#e91e63"/><rect x="108.3" y="448.2" width="1.1" height="0.8" fill="#e91e63"/><rect x="110.0" y="448.1" width="1.1" height="0.9" fill="#e91e63"/><rect x="111.6" y="448.3" width="1.1" height="0.7" fill="#e91e63"/><rect x="116.6" y="449.0" width="1.1" height="0.4" fill="#e91e63"/><rect x="118.2" y="449.0" width="1.1" height="0.9" fill="#e91e63"/><rect x="119.9" y="449.0" width="1.1" height="2.9" fill="#e91e63"/><rect x="121.5" y="449.0" width="1.1" height="3.7" fill="#e91e63"/><rect x="123.2" y="449.0" width="1.1" height="4.1" fill="#e91e63"/><rect x="124.8" y="449.0" width="1.1" height="4.5" fill="#e91e63"/><rect x="126.5" y="449.0" width="1.1" height="4.5" fill="#e91e63"/><rect x="128.1" y="449.0" width="1.1" height="3.5" fill="#e91e63"/><rect x="129.8" y="449.0" width="1.1" height="3.2" fill="#e91e63"/><rect x="131.4" y="449.0" width="1.1" height="3.2" fill="#e91e63"/><rect x="133.1" y="449.0" width="1.1" height="3.2" fill="#e91e63"/><rect x="134.7" y="449.0" width="1.1" height="2.2" fill="#e91e63"/><rect x="136.4" y="449.0" width="1.1" height="1.6" fill="#e91e63"/><rect x="138.0" y="449.0" width="1.1" height="1.5" fill="#e91e63"/><rect x="139.7" y="449.0" width="1.1" height="1.4" fill="#e91e63"/><rect x="141.3" y="449.0" width="1.1" height="1.2" fill="#e91e63"/><rect x="143.0" y="449.0" width="1.1" height="1.1" fill="#e91e63"/><rect x="144.6" y="449.0" width="1.1" height="0.9" fill="#e91e63"/><rect x="146.3" y="449.0" width="1.1" height="1.0" fill="#e91e63"/><rect x="147.9" y="449.0" width="1.1" height="1.1" fill="#e91e63"/><rect x="149.6" y="449.0" width="1.1" height="1.0" fill="#e91e63"/><rect x="151.2" y="449.0" width="1.1" height="1.0" fill="#e91e63"/><rect x="152.9" y="449.0" width="1.1" height="1.0" fill="#e91e63"/><rect x="154.5" y="449.0" width="1.1" height="1.0" fill="#e91e63"/><rect x="156.2" y="449.0" width="1.1" height="0.7" fill="#e91e63"/><rect x="157.8" y="449.0" width="1.1" height="0.6" fill="#e91e63"/><rect x="159.5" y="449.0" width="1.1" height="0.4" fill="#e91e63"/><rect x="161.1" y="449.0" width="1.1" height="0.3" fill="#e91e63"/><rect x="176.0" y="448.7" width="1.1" height="0.3" fill="#e91e63"/><rect x="177.6" y="448.6" width="1.1" height="0.4" fill="#e91e63"/><rect x="179.3" y="448.6" width="1.1" height="0.4" fill="#e91e63"/><rect x="180.9" y="448.6" width="1.1" height="0.4" fill="#e91e63"/><rect x="182.6" y="448.4" width="1.1" height="0.6" fill="#e91e63"/><rect x="184.2" y="448.1" width="1.1" height="0.9" fill="#e91e63"/><rect x="185.9" y="447.9" width="1.1" height="1.1" fill="#e91e63"/><rect x="187.5" y="447.6" width="1.1" height="1.4" fill="#e91e63"/><rect x="189.2" y="447.8" width="1.1" height="1.2" fill="#e91e63"/><rect x="190.8" y="448.0" width="1.1" height="1.0" fill="#e91e63"/><rect x="192.5" y="448.2" width="1.1" height="0.8" fill="#e91e63"/><rect x="194.1" y="448.4" width="1.1" height="0.6" fill="#e91e63"/><rect x="195.8" y="448.7" width="1.1" height="0.3" fill="#e91e63"/><rect x="238.7" y="448.6" width="1.1" height="0.4" fill="#e91e63"/><rect x="240.3" y="448.5" width="1.1" height="0.5" fill="#e91e63"/><rect x="242.0" y="448.4" width="1.1" height="0.6" fill="#e91e63"/><rect x="243.6" y="448.4" width="1.1" height="0.6" fill="#e91e63"/><rect x="245.3" y="448.4" width="1.1" height="0.6" fill="#e91e63"/><rect x="246.9" y="448.5" width="1.1" height="0.5" fill="#e91e63"/><rect x="248.6" y="448.5" width="1.1" height="0.5" fill="#e91e63"/><rect x="250.2" y="448.5" width="1.1" height="0.5" fill="#e91e63"/><rect x="251.9" y="448.5" width="1.1" height="0.5" fill="#e91e63"/><rect x="253.5" y="448.5" width="1.1" height="0.5" fill="#e91e63"/><rect x="255.2" y="448.6" width="1.1" height="0.4" fill="#e91e63"/><rect x="256.8" y="448.6" width="1.1" height="0.4" fill="#e91e63"/><rect x="258.5" y="448.6" width="1.1" height="0.4" fill="#e91e63"/><rect x="260.1" y="448.6" width="1.1" height="0.4" fill="#e91e63"/><rect x="261.8" y="448.6" width="1.1" height="0.4" fill="#e91e63"/><rect x="275.0" y="449.0" width="1.1" height="0.3" fill="#e91e63"/><rect x="276.6" y="449.0" width="1.1" height="0.4" fill="#e91e63"/><rect x="278.3" y="449.0" width="1.1" height="0.5" fill="#e91e63"/><rect x="279.9" y="449.0" width="1.1" height="0.6" fill="#e91e63"/><rect x="281.6" y="449.0" width="1.1" height="0.5" fill="#e91e63"/><rect x="283.2" y="449.0" width="1.1" height="0.4" fill="#e91e63"/><rect x="284.9" y="449.0" width="1.1" height="0.3" fill="#e91e63"/><rect x="294.8" y="448.6" width="1.1" height="0.4" fill="#e91e63"/><rect x="296.4" y="448.5" width="1.1" height="0.5" fill="#e91e63"/><rect x="298.1" y="448.2" width="1.1" height="0.8" fill="#e91e63"/><rect x="299.7" y="448.0" width="1.1" height="1.0" fill="#e91e63"/><rect x="301.4" y="447.9" width="1.1" height="1.1" fill="#e91e63"/><rect x="303.0" y="447.7" width="1.1" height="1.3" fill="#e91e63"/><rect x="304.6" y="447.9" width="1.1" height="1.1" fill="#e91e63"/><rect x="306.3" y="448.0" width="1.1" height="1.0" fill="#e91e63"/><rect x="307.9" y="448.1" width="1.1" height="0.9" fill="#e91e63"/><rect x="309.6" y="448.2" width="1.1" height="0.8" fill="#e91e63"/><rect x="311.2" y="448.3" width="1.1" height="0.7" fill="#e91e63"/><rect x="312.9" y="448.5" width="1.1" height="0.5" fill="#e91e63"/><rect x="314.5" y="448.5" width="1.1" height="0.5" fill="#e91e63"/><rect x="316.2" y="448.4" width="1.1" height="0.6" fill="#e91e63"/><rect x="317.8" y="448.4" width="1.1" height="0.6" fill="#e91e63"/><rect x="319.5" y="448.4" width="1.1" height="0.6" fill="#e91e63"/><rect x="321.1" y="448.4" width="1.1" height="0.6" fill="#e91e63"/><rect x="322.8" y="448.3" width="1.1" height="0.7" fill="#e91e63"/><rect x="324.4" y="448.3" width="1.1" height="0.7" fill="#e91e63"/><rect x="326.1" y="448.3" width="1.1" height="0.7" fill="#e91e63"/><rect x="327.7" y="448.1" width="1.1" height="0.9" fill="#e91e63"/><rect x="329.4" y="448.0" width="1.1" height="1.0" fill="#e91e63"/><rect x="331.0" y="447.9" width="1.1" height="1.1" fill="#e91e63"/><rect x="332.7" y="447.8" width="1.1" height="1.2" fill="#e91e63"/><rect x="334.3" y="447.6" width="1.1" height="1.4" fill="#e91e63"/><rect x="336.0" y="447.5" width="1.1" height="1.5" fill="#e91e63"/><rect x="337.6" y="447.3" width="1.1" height="1.7" fill="#e91e63"/><rect x="339.3" y="447.3" width="1.1" height="1.7" fill="#e91e63"/><rect x="340.9" y="447.4" width="1.1" height="1.6" fill="#e91e63"/><rect x="342.6" y="447.5" width="1.1" height="1.5" fill="#e91e63"/><rect x="344.2" y="447.6" width="1.1" height="1.4" fill="#e91e63"/><rect x="347.5" y="449.0" width="1.1" height="1.5" fill="#e91e63"/><rect x="349.2" y="449.0" width="1.1" height="2.1" fill="#e91e63"/><rect x="350.8" y="449.0" width="1.1" height="3.1" fill="#e91e63"/><rect x="352.5" y="449.0" width="1.1" height="3.8" fill="#e91e63"/><rect x="354.1" y="449.0" width="1.1" height="3.6" fill="#e91e63"/><rect x="355.8" y="449.0" width="1.1" height="1.9" fill="#e91e63"/><rect x="357.4" y="448.5" width="1.1" height="0.5" fill="#e91e63"/><rect x="359.1" y="447.1" width="1.1" height="1.9" fill="#e91e63"/><rect x="360.7" y="443.6" width="1.1" height="5.4" fill="#e91e63"/><rect x="362.4" y="440.9" width="1.1" height="8.1" fill="#e91e63"/><rect x="364.0" y="440.5" width="1.1" height="8.5" fill="#e91e63"/><rect x="365.7" y="441.4" width="1.1" height="7.6" fill="#e91e63"/><rect x="367.3" y="442.0" width="1.1" height="7.0" fill="#e91e63"/><rect x="369.0" y="441.9" width="1.1" height="7.1" fill="#e91e63"/><rect x="370.6" y="444.3" width="1.1" height="4.7" fill="#e91e63"/><rect x="372.3" y="445.4" width="1.1" height="3.6" fill="#e91e63"/><rect x="373.9" y="446.2" width="1.1" height="2.8" fill="#e91e63"/><rect x="377.2" y="449.0" width="1.1" height="1.5" fill="#e91e63"/><rect x="378.9" y="449.0" width="1.1" height="2.8" fill="#e91e63"/><rect x="380.5" y="449.0" width="1.1" height="4.1" fill="#e91e63"/><rect x="382.2" y="449.0" width="1.1" height="5.0" fill="#e91e63"/><rect x="383.8" y="449.0" width="1.1" height="5.9" fill="#e91e63"/><rect x="385.5" y="449.0" width="1.1" height="6.5" fill="#e91e63"/><rect x="387.1" y="449.0" width="1.1" height="6.1" fill="#e91e63"/><rect x="388.8" y="449.0" width="1.1" height="5.6" fill="#e91e63"/><rect x="390.4" y="449.0" width="1.1" height="5.4" fill="#e91e63"/><rect x="392.1" y="449.0" width="1.1" height="4.9" fill="#e91e63"/><rect x="393.7" y="449.0" width="1.1" height="4.4" fill="#e91e63"/><rect x="395.4" y="449.0" width="1.1" height="3.7" fill="#e91e63"/><rect x="397.0" y="449.0" width="1.1" height="2.8" fill="#e91e63"/><rect x="398.7" y="449.0" width="1.1" height="2.0" fill="#e91e63"/><rect x="400.3" y="449.0" width="1.1" height="0.7" fill="#e91e63"/><rect x="402.0" y="448.3" width="1.1" height="0.7" fill="#e91e63"/><rect x="403.6" y="447.0" width="1.1" height="2.0" fill="#e91e63"/><rect x="405.3" y="446.2" width="1.1" height="2.8" fill="#e91e63"/><rect x="406.9" y="445.5" width="1.1" height="3.5" fill="#e91e63"/><rect x="408.6" y="444.8" width="1.1" height="4.2" fill="#e91e63"/><rect x="410.2" y="447.2" width="1.1" height="1.8" fill="#e91e63"/><rect x="411.9" y="449.0" width="1.1" height="0.5" fill="#e91e63"/><rect x="413.5" y="449.0" width="1.1" height="2.9" fill="#e91e63"/><rect x="415.2" y="449.0" width="1.1" height="4.4" fill="#e91e63"/><rect x="416.8" y="449.0" width="1.1" height="5.9" fill="#e91e63"/><rect x="418.5" y="449.0" width="1.1" height="6.5" fill="#e91e63"/><rect x="420.1" y="449.0" width="1.1" height="6.9" fill="#e91e63"/><rect x="421.8" y="449.0" width="1.1" height="4.5" fill="#e91e63"/><rect x="423.4" y="449.0" width="1.1" height="2.4" fill="#e91e63"/><rect x="425.1" y="449.0" width="1.1" height="1.4" fill="#e91e63"/><rect x="426.7" y="449.0" width="1.1" height="0.4" fill="#e91e63"/><rect x="430.0" y="449.0" width="1.1" height="0.3" fill="#e91e63"/><rect x="431.7" y="449.0" width="1.1" height="0.4" fill="#e91e63"/><rect x="433.3" y="449.0" width="1.1" height="0.6" fill="#e91e63"/><rect x="435.0" y="449.0" width="1.1" height="0.7" fill="#e91e63"/><rect x="436.6" y="449.0" width="1.1" height="0.4" fill="#e91e63"/><rect x="441.6" y="448.4" width="1.1" height="0.6" fill="#e91e63"/><rect x="443.2" y="448.4" width="1.1" height="0.6" fill="#e91e63"/><rect x="444.9" y="448.5" width="1.1" height="0.5" fill="#e91e63"/><rect x="446.5" y="448.5" width="1.1" height="0.5" fill="#e91e63"/><rect x="448.2" y="448.5" width="1.1" height="0.5" fill="#e91e63"/><rect x="449.8" y="448.6" width="1.1" height="0.4" fill="#e91e63"/><rect x="451.5" y="448.6" width="1.1" height="0.4" fill="#e91e63"/><rect x="453.1" y="448.6" width="1.1" height="0.4" fill="#e91e63"/><rect x="454.8" y="448.6" width="1.1" height="0.4" fill="#e91e63"/><rect x="456.4" y="448.6" width="1.1" height="0.4" fill="#e91e63"/><rect x="458.1" y="448.6" width="1.1" height="0.4" fill="#e91e63"/><rect x="459.7" y="448.6" width="1.1" height="0.4" fill="#e91e63"/><rect x="461.4" y="448.6" width="1.1" height="0.4" fill="#e91e63"/><rect x="463.0" y="448.5" width="1.1" height="0.5" fill="#e91e63"/><rect x="464.7" y="448.5" width="1.1" height="0.5" fill="#e91e63"/><rect x="466.3" y="448.5" width="1.1" height="0.5" fill="#e91e63"/><rect x="468.0" y="448.5" width="1.1" height="0.5" fill="#e91e63"/><rect x="469.6" y="448.5" width="1.1" height="0.5" fill="#e91e63"/><rect x="471.3" y="448.5" width="1.1" height="0.5" fill="#e91e63"/><rect x="472.9" y="448.5" width="1.1" height="0.5" fill="#e91e63"/><rect x="474.6" y="448.5" width="1.1" height="0.5" fill="#e91e63"/><rect x="476.2" y="448.5" width="1.1" height="0.5" fill="#e91e63"/><rect x="477.9" y="448.5" width="1.1" height="0.5" fill="#e91e63"/><rect x="479.5" y="448.5" width="1.1" height="0.5" fill="#e91e63"/><rect x="481.2" y="448.6" width="1.1" height="0.4" fill="#e91e63"/><rect x="482.8" y="448.6" width="1.1" height="0.4" fill="#e91e63"/><rect x="484.5" y="448.6" width="1.1" height="0.4" fill="#e91e63"/><rect x="486.1" y="448.6" width="1.1" height="0.4" fill="#e91e63"/><rect x="487.8" y="448.6" width="1.1" height="0.4" fill="#e91e63"/><rect x="489.4" y="448.6" width="1.1" height="0.4" fill="#e91e63"/><rect x="491.1" y="448.3" width="1.1" height="0.7" fill="#e91e63"/><rect x="492.7" y="448.1" width="1.1" height="0.9" fill="#e91e63"/><rect x="494.4" y="447.9" width="1.1" height="1.1" fill="#e91e63"/><rect x="496.0" y="447.7" width="1.1" height="1.3" fill="#e91e63"/><rect x="497.7" y="447.4" width="1.1" height="1.6" fill="#e91e63"/><rect x="499.3" y="447.1" width="1.1" height="1.9" fill="#e91e63"/><rect x="501.0" y="446.8" width="1.1" height="2.2" fill="#e91e63"/><rect x="502.6" y="446.4" width="1.1" height="2.6" fill="#e91e63"/><rect x="504.3" y="446.0" width="1.1" height="3.0" fill="#e91e63"/><rect x="505.9" y="445.6" width="1.1" height="3.4" fill="#e91e63"/><rect x="507.6" y="445.1" width="1.1" height="3.9" fill="#e91e63"/><rect x="509.2" y="444.5" width="1.1" height="4.5" fill="#e91e63"/><rect x="510.9" y="444.8" width="1.1" height="4.2" fill="#e91e63"/><rect x="512.5" y="445.8" width="1.1" height="3.2" fill="#e91e63"/><rect x="514.2" y="445.9" width="1.1" height="3.1" fill="#e91e63"/><rect x="515.8" y="446.1" width="1.1" height="2.9" fill="#e91e63"/><rect x="517.5" y="445.5" width="1.1" height="3.5" fill="#e91e63"/><rect x="519.1" y="445.3" width="1.1" height="3.7" fill="#e91e63"/><rect x="520.8" y="443.0" width="1.1" height="6.0" fill="#e91e63"/><rect x="522.4" y="437.7" width="1.1" height="11.3" fill="#e91e63"/><rect x="524.1" y="432.8" width="1.1" height="16.2" fill="#e91e63"/><rect x="525.7" y="428.8" width="1.1" height="20.2" fill="#e91e63"/><rect x="527.4" y="430.4" width="1.1" height="18.6" fill="#e91e63"/><rect x="529.0" y="441.9" width="1.1" height="7.1" fill="#e91e63"/><rect x="530.7" y="449.0" width="1.1" height="1.1" fill="#e91e63"/><rect x="532.3" y="449.0" width="1.1" height="6.5" fill="#e91e63"/><rect x="534.0" y="449.0" width="1.1" height="10.4" fill="#e91e63"/><rect x="535.6" y="449.0" width="1.1" height="12.8" fill="#e91e63"/><rect x="537.3" y="449.0" width="1.1" height="12.9" fill="#e91e63"/><rect x="538.9" y="449.0" width="1.1" height="10.1" fill="#e91e63"/><rect x="540.6" y="449.0" width="1.1" height="7.9" fill="#e91e63"/><rect x="542.2" y="449.0" width="1.1" height="3.5" fill="#e91e63"/><rect x="543.9" y="449.0" width="1.1" height="1.7" fill="#e91e63"/><rect x="547.2" y="448.5" width="1.1" height="0.5" fill="#e91e63"/><rect x="548.8" y="448.3" width="1.1" height="0.7" fill="#e91e63"/><rect x="550.5" y="448.2" width="1.1" height="0.8" fill="#e91e63"/><rect x="552.1" y="448.1" width="1.1" height="0.9" fill="#e91e63"/><rect x="553.8" y="448.1" width="1.1" height="0.9" fill="#e91e63"/><rect x="555.4" y="448.1" width="1.1" height="0.9" fill="#e91e63"/><rect x="557.1" y="448.2" width="1.1" height="0.8" fill="#e91e63"/><rect x="558.7" y="448.3" width="1.1" height="0.7" fill="#e91e63"/><rect x="560.4" y="448.3" width="1.1" height="0.7" fill="#e91e63"/><rect x="562.0" y="448.4" width="1.1" height="0.6" fill="#e91e63"/><rect x="563.7" y="448.4" width="1.1" height="0.6" fill="#e91e63"/><rect x="565.3" y="448.5" width="1.1" height="0.5" fill="#e91e63"/><rect x="567.0" y="448.5" width="1.1" height="0.5" fill="#e91e63"/><rect x="568.6" y="448.6" width="1.1" height="0.4" fill="#e91e63"/><rect x="570.3" y="448.6" width="1.1" height="0.4" fill="#e91e63"/><rect x="571.9" y="448.6" width="1.1" height="0.4" fill="#e91e63"/><rect x="573.6" y="448.6" width="1.1" height="0.4" fill="#e91e63"/><rect x="575.2" y="448.6" width="1.1" height="0.4" fill="#e91e63"/><rect x="576.9" y="448.6" width="1.1" height="0.4" fill="#e91e63"/><rect x="578.5" y="448.6" width="1.1" height="0.4" fill="#e91e63"/><rect x="580.2" y="448.6" width="1.1" height="0.4" fill="#e91e63"/><rect x="581.8" y="448.6" width="1.1" height="0.4" fill="#e91e63"/><rect x="583.5" y="448.6" width="1.1" height="0.4" fill="#e91e63"/><rect x="585.1" y="448.6" width="1.1" height="0.4" fill="#e91e63"/><rect x="586.8" y="448.6" width="1.1" height="0.4" fill="#e91e63"/><rect x="588.4" y="448.6" width="1.1" height="0.4" fill="#e91e63"/><rect x="590.1" y="448.6" width="1.1" height="0.4" fill="#e91e63"/><rect x="591.7" y="448.6" width="1.1" height="0.4" fill="#e91e63"/><rect x="593.4" y="448.5" width="1.1" height="0.5" fill="#e91e63"/><rect x="595.0" y="448.5" width="1.1" height="0.5" fill="#e91e63"/><rect x="596.7" y="448.5" width="1.1" height="0.5" fill="#e91e63"/><rect x="598.3" y="448.5" width="1.1" height="0.5" fill="#e91e63"/><rect x="600.0" y="448.5" width="1.1" height="0.5" fill="#e91e63"/><rect x="601.6" y="448.5" width="1.1" height="0.5" fill="#e91e63"/><rect x="603.3" y="448.4" width="1.1" height="0.6" fill="#e91e63"/><rect x="604.9" y="448.4" width="1.1" height="0.6" fill="#e91e63"/><rect x="606.6" y="448.4" width="1.1" height="0.6" fill="#e91e63"/><rect x="608.2" y="448.4" width="1.1" height="0.6" fill="#e91e63"/><rect x="609.9" y="448.3" width="1.1" height="0.7" fill="#e91e63"/><rect x="611.5" y="448.3" width="1.1" height="0.7" fill="#e91e63"/><rect x="613.2" y="448.3" width="1.1" height="0.7" fill="#e91e63"/><rect x="614.8" y="448.2" width="1.1" height="0.8" fill="#e91e63"/><rect x="616.5" y="448.2" width="1.1" height="0.8" fill="#e91e63"/><rect x="618.1" y="448.2" width="1.1" height="0.8" fill="#e91e63"/><rect x="619.8" y="448.1" width="1.1" height="0.9" fill="#e91e63"/><rect x="621.4" y="448.1" width="1.1" height="0.9" fill="#e91e63"/><rect x="623.1" y="448.1" width="1.1" height="0.9" fill="#e91e63"/><rect x="624.7" y="448.1" width="1.1" height="0.9" fill="#e91e63"/><rect x="626.4" y="448.0" width="1.1" height="1.0" fill="#e91e63"/><rect x="628.0" y="447.8" width="1.1" height="1.2" fill="#e91e63"/><rect x="629.7" y="447.7" width="1.1" height="1.3" fill="#e91e63"/><rect x="631.3" y="447.5" width="1.1" height="1.5" fill="#e91e63"/><rect x="633.0" y="447.8" width="1.1" height="1.2" fill="#e91e63"/><rect x="634.6" y="448.5" width="1.1" height="0.5" fill="#e91e63"/><rect x="639.6" y="449.0" width="1.1" height="0.5" fill="#e91e63"/><rect x="641.2" y="449.0" width="1.1" height="0.9" fill="#e91e63"/><rect x="642.9" y="449.0" width="1.1" height="1.2" fill="#e91e63"/><rect x="644.5" y="449.0" width="1.1" height="0.8" fill="#e91e63"/>
<polyline points="4.7,448.8 14.2,450.0 68.0,450.0 72.0,446.0 76.0,438.0 79.1,435.3 84.0,437.5 90.0,437.0 96.0,439.5 102.0,441.5 108.0,441.8 113.0,439.8 118.0,441.5 121.0,446.0 126.0,452.0 133.0,455.5 145.0,456.0 155.0,458.0 166.0,456.5 180.0,455.0 188.0,451.0 198.0,450.0 238.0,450.0 241.0,448.5 262.0,448.0 281.0,450.0 297.0,447.5 304.0,445.0 314.0,446.0 326.0,443.0 335.0,441.5 345.0,439.5 350.0,443.5 355.0,449.0 360.0,446.0 365.0,431.0 369.6,424.7 374.0,427.0 380.0,437.0 386.0,450.0 390.0,458.0 394.4,462.5 399.0,457.0 404.0,451.0 408.6,443.6 413.0,450.0 417.0,457.0 420.4,461.3 427.0,458.0 435.0,456.0 441.8,455.0 453.6,453.5 465.4,452.0 477.2,451.5 489.0,450.5 498.5,447.0 505.5,441.0 510.0,436.0 516.0,434.0 520.0,431.0 523.0,420.0 526.8,400.0 529.0,406.0 532.0,426.0 535.0,446.0 538.0,460.0 541.0,463.7 545.0,462.0 552.8,457.0 562.2,455.0 571.6,453.5 583.4,452.8 595.3,451.5 607.1,449.5 618.9,446.5 625.9,444.5 632.0,444.0 638.0,446.0 643.0,448.5 646.0,450.0" stroke="#2196f3" stroke-width="1.15"/>
<polyline points="4.7,448.8 14.2,450.0 70.8,450.0 75.5,447.1 80.3,440.1 85.0,437.7 90.9,436.5 96.8,438.9 101.5,440.8 108.6,442.4 113.3,440.1 119.2,441.2 122.8,444.8 128.7,450.7 135.7,454.2 146.4,455.4 155.8,457.3 165.3,456.6 179.4,455.4 188.9,451.9 198.3,450.0 220.0,450.0 238.6,450.0 241.0,449.0 262.2,448.3 281.1,449.5 297.6,447.9 304.7,446.0 314.2,446.4 326.0,443.6 337.8,442.4 347.2,440.1 351.9,442.4 356.6,447.9 361.4,448.3 366.1,435.3 370.8,429.0 375.5,429.4 380.2,434.2 385.0,442.4 389.7,453.0 394.4,459.0 399.1,455.4 403.9,453.0 408.6,447.1 413.3,448.3 418.0,453.0 422.7,457.8 427.5,457.8 435.0,455.4 441.8,455.5 453.6,453.8 465.4,452.4 477.2,451.9 489.0,450.8 498.5,448.4 505.5,443.7 512.6,437.8 518.5,435.4 523.2,430.7 526.8,418.9 529.2,411.8 531.5,418.9 535.0,435.4 538.6,451.9 542.1,460.2 545.7,461.9 552.8,457.8 562.2,455.5 571.6,453.8 583.4,453.1 595.3,451.9 607.1,450.0 618.9,447.2 625.9,445.3 635.4,445.3 642.5,447.2 646.0,449.6" stroke="#e08540" stroke-width="1.4"/>
<path d="M544.5,466.6 L684.8,445.9" stroke="#27e3ee" stroke-width="4"/>
</g>
<path d="M4,319H928M4,394H928M4,470H928" stroke="#5d606b" stroke-width="2"/>
<path d="M880.5,62.4V470" stroke="#434651" stroke-width="1"/>
<g style="font-family:'Liberation Sans',Arial,sans-serif">
<path d="M880.5,105.8h3" stroke="#d1d4dc" stroke-width="1"/>
<text x="884.5" y="111.8" font-size="16.5" fill="#d1d4dc" font-weight="normal" text-anchor="start" textLength="38.3" lengthAdjust="spacingAndGlyphs" stroke="#d1d4dc" stroke-width="0.3">0.00020000</text>
<path d="M880.5,156.5h3" stroke="#d1d4dc" stroke-width="1"/>
<text x="884.5" y="162.5" font-size="16.5" fill="#d1d4dc" font-weight="normal" text-anchor="start" textLength="38.3" lengthAdjust="spacingAndGlyphs" stroke="#d1d4dc" stroke-width="0.3">0.00015000</text>
<path d="M880.5,207h3" stroke="#d1d4dc" stroke-width="1"/>
<text x="884.5" y="213" font-size="16.5" fill="#d1d4dc" font-weight="normal" text-anchor="start" textLength="38.3" lengthAdjust="spacingAndGlyphs" stroke="#d1d4dc" stroke-width="0.3">0.00010000</text>
<path d="M880.5,257.3h3" stroke="#d1d4dc" stroke-width="1"/>
<text x="884.5" y="263.3" font-size="16.5" fill="#d1d4dc" font-weight="normal" text-anchor="start" textLength="38.3" lengthAdjust="spacingAndGlyphs" stroke="#d1d4dc" stroke-width="0.3">0.00005000</text>
<path d="M880.5,308h3" stroke="#d1d4dc" stroke-width="1"/>
<text x="884.5" y="315.8" font-size="16.5" fill="#d1d4dc" font-weight="normal" text-anchor="start" textLength="38.3" lengthAdjust="spacingAndGlyphs" stroke="#d1d4dc" stroke-width="0.3">0.00000000</text>
<rect x="880.5" y="305.8" width="30.7" height="12.2" fill="#f7a35c"/>
<clipPath id="cvl"><rect x="880.5" y="305.8" width="30.7" height="12.2"/></clipPath>
<text x="884" y="323.5" font-size="16.5" fill="#2a1400" font-weight="normal" text-anchor="start" textLength="24" lengthAdjust="spacingAndGlyphs" clip-path="url(#cvl)">2.813M</text>
<rect x="880.5" y="277.8" width="45.3" height="23.4" fill="#e8505b"/>
<text x="885" y="295.3" font-size="16.5" fill="#ffffff" font-weight="normal" text-anchor="start" textLength="37.3" lengthAdjust="spacingAndGlyphs" >0.00001930</text>
<path d="M880.5,362.4h3" stroke="#d1d4dc"/>
<text x="884.5" y="368.4" font-size="16.5" fill="#d1d4dc" font-weight="normal" text-anchor="start" textLength="26" lengthAdjust="spacingAndGlyphs" >50.0000</text>
<rect x="880.5" y="364.6" width="32" height="23.4" fill="#f5f500"/>
<text x="885" y="383.5" font-size="16.5" fill="#222" font-weight="normal" text-anchor="start" textLength="26" lengthAdjust="spacingAndGlyphs" >35.5581</text>
<path d="M880.5,405.2h3" stroke="#d1d4dc"/>
<text x="885" y="413" font-size="16.5" fill="#d1d4dc" font-weight="normal" text-anchor="start" textLength="22" lengthAdjust="spacingAndGlyphs" >0.0000</text>
<rect x="880.5" y="416.5" width="31.3" height="23.3" fill="#f57c00"/>
<text x="884" y="434.5" font-size="16.5" fill="#ffffff" font-weight="normal" text-anchor="start" textLength="25" lengthAdjust="spacingAndGlyphs" >-0.0000</text>
<rect x="880.5" y="439.8" width="31.3" height="23" fill="#ff1f6b"/>
<text x="884" y="457.5" font-size="16.5" fill="#ffffff" font-weight="normal" text-anchor="start" textLength="25" lengthAdjust="spacingAndGlyphs" >-0.0000</text>
<rect x="880.5" y="462.8" width="31.3" height="5.2" fill="#2196f3"/>
<path d="M30.8,471v4" stroke="#5d606b" stroke-width="1"/>
<text x="30.8" y="490.6" font-size="16" fill="#d1d4dc" font-weight="normal" text-anchor="middle" textLength="13.3" lengthAdjust="spacingAndGlyphs" stroke="#d1d4dc" stroke-width="0.3">May</text>
<path d="M81.1,471v4" stroke="#5d606b" stroke-width="1"/>
<text x="81.1" y="490.6" font-size="16" fill="#d1d4dc" font-weight="normal" text-anchor="middle" textLength="10" lengthAdjust="spacingAndGlyphs" stroke="#d1d4dc" stroke-width="0.3">Jul</text>
<path d="M132.2,471v4" stroke="#5d606b" stroke-width="1"/>
<text x="132.2" y="490.6" font-size="16" fill="#d1d4dc" font-weight="normal" text-anchor="middle" textLength="13" lengthAdjust="spacingAndGlyphs" stroke="#d1d4dc" stroke-width="0.3">Sep</text>
<path d="M182.5,471v4" stroke="#5d606b" stroke-width="1"/>
<text x="182.5" y="490.6" font-size="16" fill="#d1d4dc" font-weight="normal" text-anchor="middle" textLength="13" lengthAdjust="spacingAndGlyphs" stroke="#d1d4dc" stroke-width="0.3">Nov</text>
<path d="M232.8,471v4" stroke="#5d606b" stroke-width="1"/>
<text x="232.8" y="490.6" font-size="16" fill="#d1d4dc" font-weight="bold" text-anchor="middle" textLength="16.5" lengthAdjust="spacingAndGlyphs" stroke="#d1d4dc" stroke-width="0.3">2017</text>
<path d="M281.4,471v4" stroke="#5d606b" stroke-width="1"/>
<text x="281.4" y="490.6" font-size="16" fill="#d1d4dc" font-weight="normal" text-anchor="middle" textLength="12.5" lengthAdjust="spacingAndGlyphs" stroke="#d1d4dc" stroke-width="0.3">Mar</text>
<path d="M331.7,471v4" stroke="#5d606b" stroke-width="1"/>
<text x="331.7" y="490.6" font-size="16" fill="#d1d4dc" font-weight="normal" text-anchor="middle" textLength="13.3" lengthAdjust="spacingAndGlyphs" stroke="#d1d4dc" stroke-width="0.3">May</text>
<path d="M382.0,471v4" stroke="#5d606b" stroke-width="1"/>
<text x="382.0" y="490.6" font-size="16" fill="#d1d4dc" font-weight="normal" text-anchor="middle" textLength="10" lengthAdjust="spacingAndGlyphs" stroke="#d1d4dc" stroke-width="0.3">Jul</text>
<path d="M433.1,471v4" stroke="#5d606b" stroke-width="1"/>
<text x="433.1" y="490.6" font-size="16" fill="#d1d4dc" font-weight="normal" text-anchor="middle" textLength="13" lengthAdjust="spacingAndGlyphs" stroke="#d1d4dc" stroke-width="0.3">Sep</text>
<path d="M483.3,471v4" stroke="#5d606b" stroke-width="1"/>
<text x="483.3" y="490.6" font-size="16" fill="#d1d4dc" font-weight="normal" text-anchor="middle" textLength="13" lengthAdjust="spacingAndGlyphs" stroke="#d1d4dc" stroke-width="0.3">Nov</text>
<path d="M533.6,471v4" stroke="#5d606b" stroke-width="1"/>
<text x="533.6" y="490.6" font-size="16" fill="#d1d4dc" font-weight="bold" text-anchor="middle" textLength="16.5" lengthAdjust="spacingAndGlyphs" stroke="#d1d4dc" stroke-width="0.3">2018</text>
<path d="M582.3,471v4" stroke="#5d606b" stroke-width="1"/>
<text x="582.3" y="490.6" font-size="16" fill="#d1d4dc" font-weight="normal" text-anchor="middle" textLength="12.5" lengthAdjust="spacingAndGlyphs" stroke="#d1d4dc" stroke-width="0.3">Mar</text>
<path d="M632.5,471v4" stroke="#5d606b" stroke-width="1"/>
<text x="632.5" y="490.6" font-size="16" fill="#d1d4dc" font-weight="normal" text-anchor="middle" textLength="13.3" lengthAdjust="spacingAndGlyphs" stroke="#d1d4dc" stroke-width="0.3">May</text>
<path d="M682.8,471v4" stroke="#5d606b" stroke-width="1"/>
<text x="682.8" y="490.6" font-size="16" fill="#d1d4dc" font-weight="normal" text-anchor="middle" textLength="10" lengthAdjust="spacingAndGlyphs" stroke="#d1d4dc" stroke-width="0.3">Jul</text>
<path d="M733.9,471v4" stroke="#5d606b" stroke-width="1"/>
<text x="733.9" y="490.6" font-size="16" fill="#d1d4dc" font-weight="normal" text-anchor="middle" textLength="13" lengthAdjust="spacingAndGlyphs" stroke="#d1d4dc" stroke-width="0.3">Sep</text>
<path d="M784.2,471v4" stroke="#5d606b" stroke-width="1"/>
<text x="784.2" y="490.6" font-size="16" fill="#d1d4dc" font-weight="normal" text-anchor="middle" textLength="13" lengthAdjust="spacingAndGlyphs" stroke="#d1d4dc" stroke-width="0.3">Nov</text>
<path d="M834.5,471v4" stroke="#5d606b" stroke-width="1"/>
<text x="834.5" y="490.6" font-size="16" fill="#d1d4dc" font-weight="bold" text-anchor="middle" textLength="16.5" lengthAdjust="spacingAndGlyphs" stroke="#d1d4dc" stroke-width="0.3">2019</text>
<text x="10.2" y="92.8" font-size="15.8" fill="#d1d4dc" font-weight="normal" text-anchor="start" textLength="106.7" lengthAdjust="spacingAndGlyphs" stroke="#d1d4dc" stroke-width="0.35">NXT / Bitcoin, 1D, POLONIEX</text>
<text x="10.2" y="116.8" font-size="15.8" fill="#d1d4dc" font-weight="normal" text-anchor="start" textLength="26.6" lengthAdjust="spacingAndGlyphs" stroke="#d1d4dc" stroke-width="0.35">Vol (20)</text>
<text x="9.8" y="349.9" font-size="15.8" fill="#d1d4dc" font-weight="normal" text-anchor="start" textLength="50.3" lengthAdjust="spacingAndGlyphs" stroke="#d1d4dc" stroke-width="0.35">RSI (14, close)</text>
<text x="10" y="424.2" font-size="15.8" fill="#d1d4dc" font-weight="normal" text-anchor="start" textLength="84.4" lengthAdjust="spacingAndGlyphs" stroke="#d1d4dc" stroke-width="0.35">MACD (12, 26, close, 9)</text>
</g>
<g style="font-family:'Liberation Sans',Arial,sans-serif">
<text x="3.8" y="530.8" font-size="17.5" fill="#151515" font-weight="normal" text-anchor="start" textLength="47.2" lengthAdjust="spacingAndGlyphs" stroke="#151515" stroke-width="0.55">Created with</text>
<text x="76.6" y="530.8" font-size="17.5" fill="#55abe0" font-weight="normal" text-anchor="start" textLength="45.4" lengthAdjust="spacingAndGlyphs" >TradingView</text>
<path d="M58,532 L57.3,525 Q57.2,520.5 59.5,519.5 L61.5,513.5 Q62,512.2 63.5,512.2 L65,512.2 Q66,512.2 66.8,513.5 L69.6,518.5 Q72,522 72,527 L71.8,530 Q71.5,532 69.5,532 Z" fill="#4cb5e5"/>
<polyline points="57.8,530 62.6,518.7 65.9,529.7 71.6,519.2" fill="none" stroke="#ffffff" stroke-width="1.2"/>
</g>
</svg></body></html>
